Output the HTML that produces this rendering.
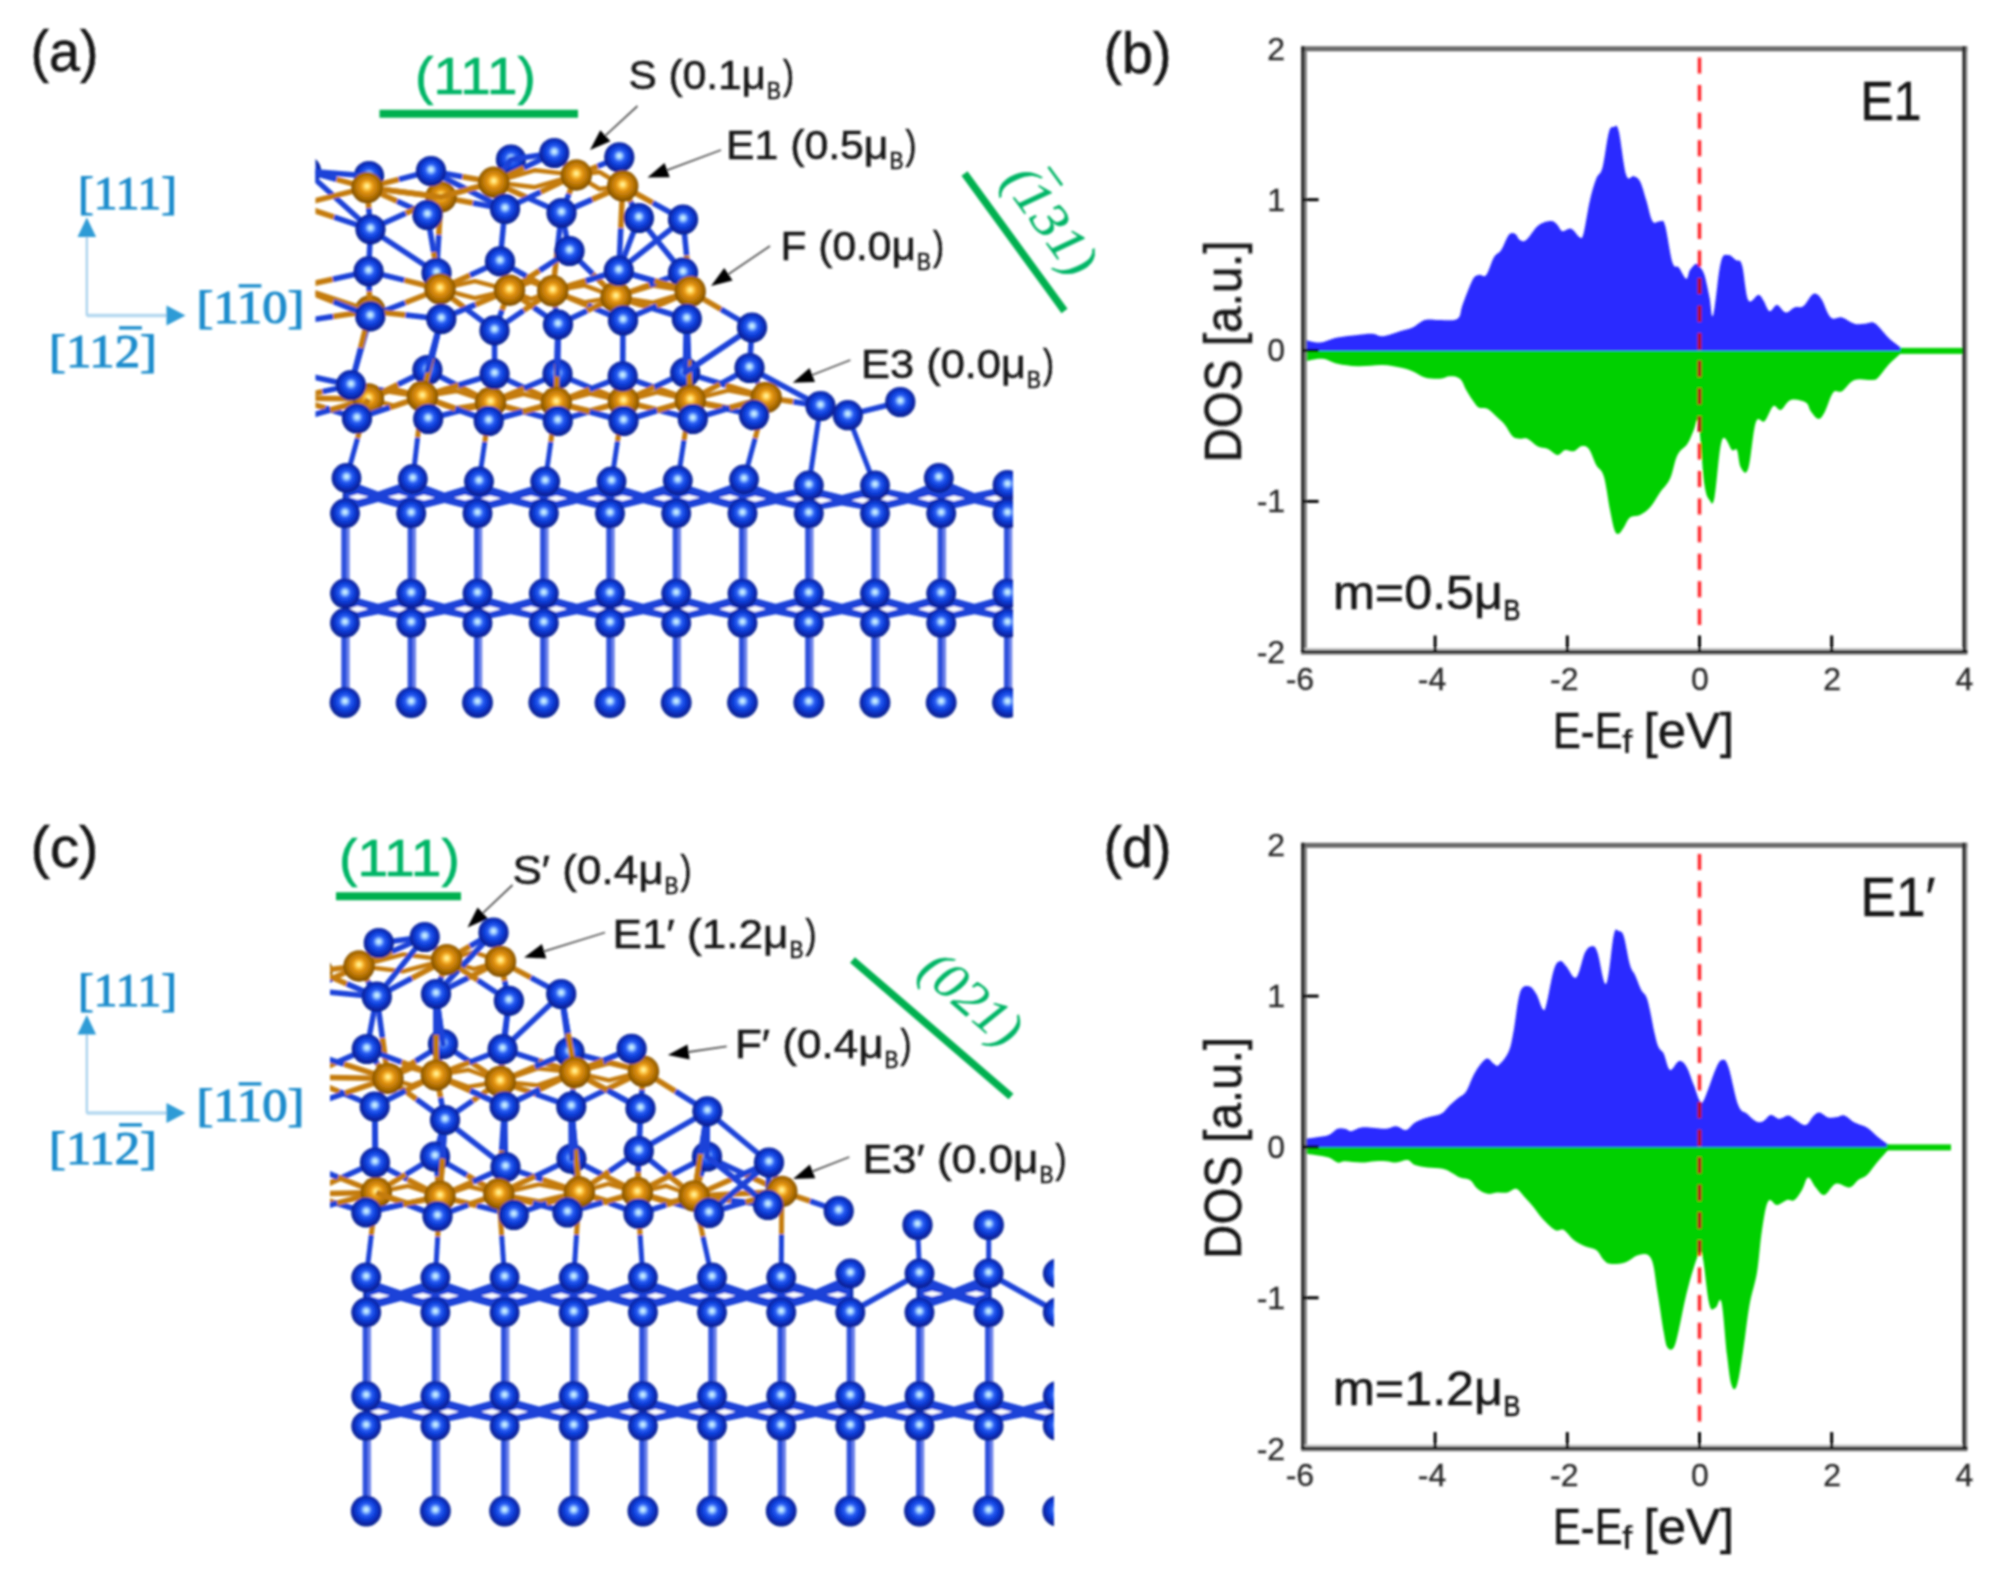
<!DOCTYPE html>
<html lang="en"><head><meta charset="utf-8"><title>Figure</title>
<style>
html,body{margin:0;padding:0;background:#fff;}
svg{display:block;}
.lb{font-family:"Liberation Sans",sans-serif;}
.k{fill:#161616;stroke:#161616;stroke-width:0.55px;}
.tk{font-family:"Liberation Sans",sans-serif;font-size:32px;fill:#2a2a2a;stroke:#2a2a2a;stroke-width:0.3px;}
.sf{font-family:"Liberation Serif",serif;stroke-width:1.1px;}
</style></head><body>
<svg width="2016" height="1580" viewBox="0 0 2016 1580">
<defs>
<radialGradient id="gb" cx="0.5" cy="0.47" r="0.5" fx="0.5" fy="0.45">
<stop offset="0" stop-color="#d8f6ff"/><stop offset="0.1" stop-color="#bfe6ff"/><stop offset="0.2" stop-color="#86bcff"/><stop offset="0.36" stop-color="#2a60f4"/><stop offset="0.58" stop-color="#1242de"/><stop offset="0.8" stop-color="#0a2db8"/><stop offset="1" stop-color="#061f8e"/>
</radialGradient>
<radialGradient id="go" cx="0.5" cy="0.47" r="0.5" fx="0.5" fy="0.45">
<stop offset="0" stop-color="#fffbb8"/><stop offset="0.1" stop-color="#ffe880"/><stop offset="0.2" stop-color="#ffcc48"/><stop offset="0.38" stop-color="#e69614"/><stop offset="0.6" stop-color="#c67e08"/><stop offset="0.82" stop-color="#a66804"/><stop offset="1" stop-color="#7e4e00"/>
</radialGradient>
<filter id="bl" x="0" y="0" width="100%" height="100%" filterUnits="userSpaceOnUse"><feGaussianBlur stdDeviation="0.95"/></filter>
</defs>
<rect width="2016" height="1580" fill="#fff"/>
<g filter="url(#bl)">

<clipPath id="ca"><rect x="315.5" y="120.0" width="697.5" height="620.0"/></clipPath>
<g clip-path="url(#ca)" stroke-linecap="round">
<line x1="345.6" y1="513.5" x2="345.6" y2="593.5" stroke="#6e84ea" stroke-width="8.4" stroke-linecap="butt"/>
<line x1="344.1" y1="513.5" x2="344.1" y2="593.5" stroke="#2f51dc" stroke-width="5.2" stroke-linecap="butt"/>
<line x1="345.6" y1="623.0" x2="345.6" y2="702.5" stroke="#6e84ea" stroke-width="8.4" stroke-linecap="butt"/>
<line x1="344.1" y1="623.0" x2="344.1" y2="702.5" stroke="#2f51dc" stroke-width="5.2" stroke-linecap="butt"/>
<line x1="346.5" y1="478.0" x2="345.0" y2="513.5" stroke="#0a2bb0" stroke-width="6.0"/>
<line x1="345.0" y1="593.5" x2="345.0" y2="623.0" stroke="#0a2bb0" stroke-width="6.0"/>
<line x1="411.9" y1="513.5" x2="411.9" y2="593.5" stroke="#6e84ea" stroke-width="8.4" stroke-linecap="butt"/>
<line x1="410.4" y1="513.5" x2="410.4" y2="593.5" stroke="#2f51dc" stroke-width="5.2" stroke-linecap="butt"/>
<line x1="411.9" y1="623.0" x2="411.9" y2="702.5" stroke="#6e84ea" stroke-width="8.4" stroke-linecap="butt"/>
<line x1="410.4" y1="623.0" x2="410.4" y2="702.5" stroke="#2f51dc" stroke-width="5.2" stroke-linecap="butt"/>
<line x1="412.8" y1="479.0" x2="411.2" y2="513.5" stroke="#0a2bb0" stroke-width="6.0"/>
<line x1="411.2" y1="593.5" x2="411.2" y2="623.0" stroke="#0a2bb0" stroke-width="6.0"/>
<line x1="478.1" y1="513.5" x2="478.1" y2="593.5" stroke="#6e84ea" stroke-width="8.4" stroke-linecap="butt"/>
<line x1="476.6" y1="513.5" x2="476.6" y2="593.5" stroke="#2f51dc" stroke-width="5.2" stroke-linecap="butt"/>
<line x1="478.1" y1="623.0" x2="478.1" y2="702.5" stroke="#6e84ea" stroke-width="8.4" stroke-linecap="butt"/>
<line x1="476.6" y1="623.0" x2="476.6" y2="702.5" stroke="#2f51dc" stroke-width="5.2" stroke-linecap="butt"/>
<line x1="479.0" y1="481.5" x2="477.5" y2="513.5" stroke="#0a2bb0" stroke-width="6.0"/>
<line x1="477.5" y1="593.5" x2="477.5" y2="623.0" stroke="#0a2bb0" stroke-width="6.0"/>
<line x1="544.4" y1="513.5" x2="544.4" y2="593.5" stroke="#6e84ea" stroke-width="8.4" stroke-linecap="butt"/>
<line x1="542.9" y1="513.5" x2="542.9" y2="593.5" stroke="#2f51dc" stroke-width="5.2" stroke-linecap="butt"/>
<line x1="544.4" y1="623.0" x2="544.4" y2="702.5" stroke="#6e84ea" stroke-width="8.4" stroke-linecap="butt"/>
<line x1="542.9" y1="623.0" x2="542.9" y2="702.5" stroke="#2f51dc" stroke-width="5.2" stroke-linecap="butt"/>
<line x1="545.2" y1="481.5" x2="543.8" y2="513.5" stroke="#0a2bb0" stroke-width="6.0"/>
<line x1="543.8" y1="593.5" x2="543.8" y2="623.0" stroke="#0a2bb0" stroke-width="6.0"/>
<line x1="610.6" y1="513.5" x2="610.6" y2="593.5" stroke="#6e84ea" stroke-width="8.4" stroke-linecap="butt"/>
<line x1="609.1" y1="513.5" x2="609.1" y2="593.5" stroke="#2f51dc" stroke-width="5.2" stroke-linecap="butt"/>
<line x1="610.6" y1="623.0" x2="610.6" y2="702.5" stroke="#6e84ea" stroke-width="8.4" stroke-linecap="butt"/>
<line x1="609.1" y1="623.0" x2="609.1" y2="702.5" stroke="#2f51dc" stroke-width="5.2" stroke-linecap="butt"/>
<line x1="611.5" y1="481.5" x2="610.0" y2="513.5" stroke="#0a2bb0" stroke-width="6.0"/>
<line x1="610.0" y1="593.5" x2="610.0" y2="623.0" stroke="#0a2bb0" stroke-width="6.0"/>
<line x1="676.9" y1="513.5" x2="676.9" y2="593.5" stroke="#6e84ea" stroke-width="8.4" stroke-linecap="butt"/>
<line x1="675.4" y1="513.5" x2="675.4" y2="593.5" stroke="#2f51dc" stroke-width="5.2" stroke-linecap="butt"/>
<line x1="676.9" y1="623.0" x2="676.9" y2="702.5" stroke="#6e84ea" stroke-width="8.4" stroke-linecap="butt"/>
<line x1="675.4" y1="623.0" x2="675.4" y2="702.5" stroke="#2f51dc" stroke-width="5.2" stroke-linecap="butt"/>
<line x1="677.8" y1="480.5" x2="676.2" y2="513.5" stroke="#0a2bb0" stroke-width="6.0"/>
<line x1="676.2" y1="593.5" x2="676.2" y2="623.0" stroke="#0a2bb0" stroke-width="6.0"/>
<line x1="743.1" y1="513.5" x2="743.1" y2="593.5" stroke="#6e84ea" stroke-width="8.4" stroke-linecap="butt"/>
<line x1="741.6" y1="513.5" x2="741.6" y2="593.5" stroke="#2f51dc" stroke-width="5.2" stroke-linecap="butt"/>
<line x1="743.1" y1="623.0" x2="743.1" y2="702.5" stroke="#6e84ea" stroke-width="8.4" stroke-linecap="butt"/>
<line x1="741.6" y1="623.0" x2="741.6" y2="702.5" stroke="#2f51dc" stroke-width="5.2" stroke-linecap="butt"/>
<line x1="744.0" y1="479.5" x2="742.5" y2="513.5" stroke="#0a2bb0" stroke-width="6.0"/>
<line x1="742.5" y1="593.5" x2="742.5" y2="623.0" stroke="#0a2bb0" stroke-width="6.0"/>
<line x1="809.4" y1="513.5" x2="809.4" y2="593.5" stroke="#6e84ea" stroke-width="8.4" stroke-linecap="butt"/>
<line x1="807.9" y1="513.5" x2="807.9" y2="593.5" stroke="#2f51dc" stroke-width="5.2" stroke-linecap="butt"/>
<line x1="809.4" y1="623.0" x2="809.4" y2="702.5" stroke="#6e84ea" stroke-width="8.4" stroke-linecap="butt"/>
<line x1="807.9" y1="623.0" x2="807.9" y2="702.5" stroke="#2f51dc" stroke-width="5.2" stroke-linecap="butt"/>
<line x1="808.8" y1="485.5" x2="808.8" y2="513.5" stroke="#0a2bb0" stroke-width="6.0"/>
<line x1="808.8" y1="593.5" x2="808.8" y2="623.0" stroke="#0a2bb0" stroke-width="6.0"/>
<line x1="875.6" y1="513.5" x2="875.6" y2="593.5" stroke="#6e84ea" stroke-width="8.4" stroke-linecap="butt"/>
<line x1="874.1" y1="513.5" x2="874.1" y2="593.5" stroke="#2f51dc" stroke-width="5.2" stroke-linecap="butt"/>
<line x1="875.6" y1="623.0" x2="875.6" y2="702.5" stroke="#6e84ea" stroke-width="8.4" stroke-linecap="butt"/>
<line x1="874.1" y1="623.0" x2="874.1" y2="702.5" stroke="#2f51dc" stroke-width="5.2" stroke-linecap="butt"/>
<line x1="875.0" y1="485.5" x2="875.0" y2="513.5" stroke="#0a2bb0" stroke-width="6.0"/>
<line x1="875.0" y1="593.5" x2="875.0" y2="623.0" stroke="#0a2bb0" stroke-width="6.0"/>
<line x1="941.9" y1="513.5" x2="941.9" y2="593.5" stroke="#6e84ea" stroke-width="8.4" stroke-linecap="butt"/>
<line x1="940.4" y1="513.5" x2="940.4" y2="593.5" stroke="#2f51dc" stroke-width="5.2" stroke-linecap="butt"/>
<line x1="941.9" y1="623.0" x2="941.9" y2="702.5" stroke="#6e84ea" stroke-width="8.4" stroke-linecap="butt"/>
<line x1="940.4" y1="623.0" x2="940.4" y2="702.5" stroke="#2f51dc" stroke-width="5.2" stroke-linecap="butt"/>
<line x1="938.8" y1="478.0" x2="941.2" y2="513.5" stroke="#0a2bb0" stroke-width="6.0"/>
<line x1="941.2" y1="593.5" x2="941.2" y2="623.0" stroke="#0a2bb0" stroke-width="6.0"/>
<line x1="1008.1" y1="513.5" x2="1008.1" y2="593.5" stroke="#6e84ea" stroke-width="8.4" stroke-linecap="butt"/>
<line x1="1006.6" y1="513.5" x2="1006.6" y2="593.5" stroke="#2f51dc" stroke-width="5.2" stroke-linecap="butt"/>
<line x1="1008.1" y1="623.0" x2="1008.1" y2="702.5" stroke="#6e84ea" stroke-width="8.4" stroke-linecap="butt"/>
<line x1="1006.6" y1="623.0" x2="1006.6" y2="702.5" stroke="#2f51dc" stroke-width="5.2" stroke-linecap="butt"/>
<line x1="1007.5" y1="485.0" x2="1007.5" y2="513.5" stroke="#0a2bb0" stroke-width="6.0"/>
<line x1="1007.5" y1="593.5" x2="1007.5" y2="623.0" stroke="#0a2bb0" stroke-width="6.0"/>
<polygon points="345.0,479.0 378.1,491.6 411.2,480.0 411.2,511.5 378.1,502.0 345.0,511.5" fill="#1a42d8"/>
<polygon points="348.5,496.8 357.5,493.9 368.5,496.8 357.5,499.7" fill="#fff"/>
<polygon points="407.8,496.8 398.8,493.9 387.8,496.8 398.8,499.7" fill="#fff"/>
<polygon points="345.0,594.5 378.1,603.8 411.2,594.5 411.2,621.0 378.1,614.2 345.0,621.0" fill="#1a42d8"/>
<polygon points="348.5,609.0 357.5,606.1 368.5,609.0 357.5,611.9" fill="#fff"/>
<polygon points="407.8,609.0 398.8,606.1 387.8,609.0 398.8,611.9" fill="#fff"/>
<polygon points="411.2,480.0 444.4,492.5 477.5,482.5 477.5,511.5 444.4,502.9 411.2,511.5" fill="#1a42d8"/>
<polygon points="414.8,497.7 423.8,494.8 434.8,497.7 423.8,500.6" fill="#fff"/>
<polygon points="474.0,497.7 465.0,494.8 454.0,497.7 465.0,500.6" fill="#fff"/>
<polygon points="411.2,594.5 444.4,603.8 477.5,594.5 477.5,621.0 444.4,614.2 411.2,621.0" fill="#1a42d8"/>
<polygon points="414.8,609.0 423.8,606.1 434.8,609.0 423.8,611.9" fill="#fff"/>
<polygon points="474.0,609.0 465.0,606.1 454.0,609.0 465.0,611.9" fill="#fff"/>
<polygon points="477.5,482.5 510.6,493.1 543.8,482.5 543.8,511.5 510.6,503.5 477.5,511.5" fill="#1a42d8"/>
<polygon points="481.0,498.3 490.0,495.4 501.0,498.3 490.0,501.2" fill="#fff"/>
<polygon points="540.2,498.3 531.2,495.4 520.2,498.3 531.2,501.2" fill="#fff"/>
<polygon points="477.5,594.5 510.6,603.8 543.8,594.5 543.8,621.0 510.6,614.2 477.5,621.0" fill="#1a42d8"/>
<polygon points="481.0,609.0 490.0,606.1 501.0,609.0 490.0,611.9" fill="#fff"/>
<polygon points="540.2,609.0 531.2,606.1 520.2,609.0 531.2,611.9" fill="#fff"/>
<polygon points="543.8,482.5 576.9,493.1 610.0,482.5 610.0,511.5 576.9,503.5 543.8,511.5" fill="#1a42d8"/>
<polygon points="547.2,498.3 556.2,495.4 567.2,498.3 556.2,501.2" fill="#fff"/>
<polygon points="606.5,498.3 597.5,495.4 586.5,498.3 597.5,501.2" fill="#fff"/>
<polygon points="543.8,594.5 576.9,603.8 610.0,594.5 610.0,621.0 576.9,614.2 543.8,621.0" fill="#1a42d8"/>
<polygon points="547.2,609.0 556.2,606.1 567.2,609.0 556.2,611.9" fill="#fff"/>
<polygon points="606.5,609.0 597.5,606.1 586.5,609.0 597.5,611.9" fill="#fff"/>
<polygon points="610.0,482.5 643.1,492.9 676.2,481.5 676.2,511.5 643.1,503.2 610.0,511.5" fill="#1a42d8"/>
<polygon points="613.5,498.1 622.5,495.2 633.5,498.1 622.5,500.9" fill="#fff"/>
<polygon points="672.8,498.1 663.8,495.2 652.8,498.1 663.8,500.9" fill="#fff"/>
<polygon points="610.0,594.5 643.1,603.8 676.2,594.5 676.2,621.0 643.1,614.2 610.0,621.0" fill="#1a42d8"/>
<polygon points="613.5,609.0 622.5,606.1 633.5,609.0 622.5,611.9" fill="#fff"/>
<polygon points="672.8,609.0 663.8,606.1 652.8,609.0 663.8,611.9" fill="#fff"/>
<polygon points="676.2,481.5 709.4,492.4 742.5,480.5 742.5,511.5 709.4,502.8 676.2,511.5" fill="#1a42d8"/>
<polygon points="679.8,497.6 688.8,494.7 699.8,497.6 688.8,500.4" fill="#fff"/>
<polygon points="739.0,497.6 730.0,494.7 719.0,497.6 730.0,500.4" fill="#fff"/>
<polygon points="676.2,594.5 709.4,603.8 742.5,594.5 742.5,621.0 709.4,614.2 676.2,621.0" fill="#1a42d8"/>
<polygon points="679.8,609.0 688.8,606.1 699.8,609.0 688.8,611.9" fill="#fff"/>
<polygon points="739.0,609.0 730.0,606.1 719.0,609.0 730.0,611.9" fill="#fff"/>
<polygon points="742.5,480.5 775.6,493.6 808.8,486.5 808.8,511.5 775.6,504.0 742.5,511.5" fill="#1a42d8"/>
<polygon points="746.0,498.8 755.0,495.9 766.0,498.8 755.0,501.7" fill="#fff"/>
<polygon points="805.2,498.8 796.2,495.9 785.2,498.8 796.2,501.7" fill="#fff"/>
<polygon points="742.5,594.5 775.6,603.8 808.8,594.5 808.8,621.0 775.6,614.2 742.5,621.0" fill="#1a42d8"/>
<polygon points="746.0,609.0 755.0,606.1 766.0,609.0 755.0,611.9" fill="#fff"/>
<polygon points="805.2,609.0 796.2,606.1 785.2,609.0 796.2,611.9" fill="#fff"/>
<polygon points="808.8,486.5 841.9,495.1 875.0,486.5 875.0,511.5 841.9,505.5 808.8,511.5" fill="#1a42d8"/>
<polygon points="812.2,500.3 821.2,497.4 832.2,500.3 821.2,503.2" fill="#fff"/>
<polygon points="871.5,500.3 862.5,497.4 851.5,500.3 862.5,503.2" fill="#fff"/>
<polygon points="808.8,594.5 841.9,603.8 875.0,594.5 875.0,621.0 841.9,614.2 808.8,621.0" fill="#1a42d8"/>
<polygon points="812.2,609.0 821.2,606.1 832.2,609.0 821.2,611.9" fill="#fff"/>
<polygon points="871.5,609.0 862.5,606.1 851.5,609.0 862.5,611.9" fill="#fff"/>
<polygon points="875.0,486.5 908.1,493.2 941.2,479.0 941.2,511.5 908.1,503.6 875.0,511.5" fill="#1a42d8"/>
<polygon points="878.5,498.4 887.5,495.5 898.5,498.4 887.5,501.3" fill="#fff"/>
<polygon points="937.8,498.4 928.8,495.5 917.8,498.4 928.8,501.3" fill="#fff"/>
<polygon points="875.0,594.5 908.1,603.8 941.2,594.5 941.2,621.0 908.1,614.2 875.0,621.0" fill="#1a42d8"/>
<polygon points="878.5,609.0 887.5,606.1 898.5,609.0 887.5,611.9" fill="#fff"/>
<polygon points="937.8,609.0 928.8,606.1 917.8,609.0 928.8,611.9" fill="#fff"/>
<polygon points="941.2,479.0 974.4,493.1 1007.5,486.0 1007.5,511.5 974.4,503.5 941.2,511.5" fill="#1a42d8"/>
<polygon points="944.8,498.3 953.8,495.4 964.8,498.3 953.8,501.2" fill="#fff"/>
<polygon points="1004.0,498.3 995.0,495.4 984.0,498.3 995.0,501.2" fill="#fff"/>
<polygon points="941.2,594.5 974.4,603.8 1007.5,594.5 1007.5,621.0 974.4,614.2 941.2,621.0" fill="#1a42d8"/>
<polygon points="944.8,609.0 953.8,606.1 964.8,609.0 953.8,611.9" fill="#fff"/>
<polygon points="1004.0,609.0 995.0,606.1 984.0,609.0 995.0,611.9" fill="#fff"/>
<circle cx="306.0" cy="171.0" r="15.1" fill="url(#gb)"/>
<circle cx="298.0" cy="205.0" r="15.7" fill="url(#go)"/>
<circle cx="297.0" cy="287.0" r="15.7" fill="url(#go)"/>
<circle cx="296.0" cy="322.0" r="15.1" fill="url(#gb)"/>
<circle cx="294.0" cy="398.0" r="15.7" fill="url(#go)"/>
<circle cx="290.0" cy="372.0" r="15.1" fill="url(#gb)"/>
<circle cx="292.0" cy="421.0" r="15.1" fill="url(#gb)"/>
<circle cx="296.0" cy="250.0" r="15.1" fill="url(#gb)"/>
<circle cx="369.0" cy="176.0" r="15.1" fill="url(#gb)"/>
<circle cx="511.0" cy="159.5" r="15.1" fill="url(#gb)"/>
<circle cx="370.0" cy="311.0" r="15.7" fill="url(#go)"/>
<path d="M493.8 182.3 L535.0 170.2 L576.3 175.0" fill="none" stroke="#c47c0c" stroke-width="4.4" stroke-linejoin="round"/>
<path d="M493.8 182.3 L535.0 187.2 L576.3 175.0" fill="none" stroke="#c47c0c" stroke-width="4.4" stroke-linejoin="round"/>
<path d="M576.3 175.0 L599.5 172.0 L622.7 186.0" fill="none" stroke="#c47c0c" stroke-width="4.4" stroke-linejoin="round"/>
<path d="M576.3 175.0 L599.5 189.0 L622.7 186.0" fill="none" stroke="#c47c0c" stroke-width="4.4" stroke-linejoin="round"/>
<path d="M440.0 289.0 L474.8 281.1 L509.5 290.2" fill="none" stroke="#c47c0c" stroke-width="4.4" stroke-linejoin="round"/>
<path d="M440.0 289.0 L474.8 298.1 L509.5 290.2" fill="none" stroke="#c47c0c" stroke-width="4.4" stroke-linejoin="round"/>
<path d="M509.5 290.2 L531.1 282.0 L552.7 290.8" fill="none" stroke="#c47c0c" stroke-width="4.4" stroke-linejoin="round"/>
<path d="M509.5 290.2 L531.1 299.0 L552.7 290.8" fill="none" stroke="#c47c0c" stroke-width="4.4" stroke-linejoin="round"/>
<path d="M552.7 290.8 L584.4 285.4 L616.0 297.0" fill="none" stroke="#c47c0c" stroke-width="4.4" stroke-linejoin="round"/>
<path d="M552.7 290.8 L584.4 302.4 L616.0 297.0" fill="none" stroke="#c47c0c" stroke-width="4.4" stroke-linejoin="round"/>
<path d="M616.0 297.0 L653.1 285.7 L690.2 291.4" fill="none" stroke="#c47c0c" stroke-width="4.4" stroke-linejoin="round"/>
<path d="M616.0 297.0 L653.1 302.7 L690.2 291.4" fill="none" stroke="#c47c0c" stroke-width="4.4" stroke-linejoin="round"/>
<path d="M368.5 399.0 L395.4 389.2 L422.4 396.5" fill="none" stroke="#c47c0c" stroke-width="4.4" stroke-linejoin="round"/>
<path d="M368.5 399.0 L395.4 406.2 L422.4 396.5" fill="none" stroke="#c47c0c" stroke-width="4.4" stroke-linejoin="round"/>
<path d="M422.4 396.5 L456.4 391.0 L490.5 402.5" fill="none" stroke="#c47c0c" stroke-width="4.4" stroke-linejoin="round"/>
<path d="M422.4 396.5 L456.4 408.0 L490.5 402.5" fill="none" stroke="#c47c0c" stroke-width="4.4" stroke-linejoin="round"/>
<path d="M490.5 402.5 L523.4 394.0 L556.3 402.5" fill="none" stroke="#c47c0c" stroke-width="4.4" stroke-linejoin="round"/>
<path d="M490.5 402.5 L523.4 411.0 L556.3 402.5" fill="none" stroke="#c47c0c" stroke-width="4.4" stroke-linejoin="round"/>
<path d="M556.3 402.5 L589.9 393.5 L623.5 401.5" fill="none" stroke="#c47c0c" stroke-width="4.4" stroke-linejoin="round"/>
<path d="M556.3 402.5 L589.9 410.5 L623.5 401.5" fill="none" stroke="#c47c0c" stroke-width="4.4" stroke-linejoin="round"/>
<path d="M623.5 401.5 L656.9 392.4 L690.3 400.2" fill="none" stroke="#c47c0c" stroke-width="4.4" stroke-linejoin="round"/>
<path d="M623.5 401.5 L656.9 409.4 L690.3 400.2" fill="none" stroke="#c47c0c" stroke-width="4.4" stroke-linejoin="round"/>
<path d="M690.3 400.2 L728.2 390.4 L766.2 397.5" fill="none" stroke="#c47c0c" stroke-width="4.4" stroke-linejoin="round"/>
<path d="M690.3 400.2 L728.2 407.4 L766.2 397.5" fill="none" stroke="#c47c0c" stroke-width="4.4" stroke-linejoin="round"/>
<line x1="306.0" y1="171.0" x2="336.5" y2="179.3" stroke="#1a42d8" stroke-width="5.5" stroke-linecap="butt"/>
<line x1="336.5" y1="179.3" x2="367.0" y2="187.6" stroke="#c47c0c" stroke-width="5.5" stroke-linecap="butt"/>
<line x1="367.0" y1="187.6" x2="399.0" y2="179.3" stroke="#c47c0c" stroke-width="5.5" stroke-linecap="butt"/>
<line x1="399.0" y1="179.3" x2="431.0" y2="171.0" stroke="#1a42d8" stroke-width="5.5" stroke-linecap="butt"/>
<line x1="367.0" y1="187.6" x2="368.8" y2="208.4" stroke="#c47c0c" stroke-width="5.5" stroke-linecap="butt"/>
<line x1="368.8" y1="208.4" x2="370.5" y2="229.3" stroke="#1a42d8" stroke-width="5.5" stroke-linecap="butt"/>
<line x1="367.0" y1="187.6" x2="397.2" y2="201.3" stroke="#c47c0c" stroke-width="5.5" stroke-linecap="butt"/>
<line x1="397.2" y1="201.3" x2="427.4" y2="215.0" stroke="#1a42d8" stroke-width="5.5" stroke-linecap="butt"/>
<line x1="367.0" y1="187.6" x2="441.0" y2="197.0" stroke="#c47c0c" stroke-width="5.5"/>
<line x1="306.0" y1="171.0" x2="370.5" y2="229.3" stroke="#1a42d8" stroke-width="5.5"/>
<line x1="298.0" y1="205.0" x2="367.0" y2="187.6" stroke="#c47c0c" stroke-width="5.5"/>
<line x1="298.0" y1="205.0" x2="334.2" y2="217.2" stroke="#c47c0c" stroke-width="5.5" stroke-linecap="butt"/>
<line x1="334.2" y1="217.2" x2="370.5" y2="229.3" stroke="#1a42d8" stroke-width="5.5" stroke-linecap="butt"/>
<line x1="298.0" y1="205.0" x2="302.0" y2="188.0" stroke="#c47c0c" stroke-width="5.5" stroke-linecap="butt"/>
<line x1="302.0" y1="188.0" x2="306.0" y2="171.0" stroke="#1a42d8" stroke-width="5.5" stroke-linecap="butt"/>
<line x1="296.0" y1="250.0" x2="297.0" y2="227.5" stroke="#1a42d8" stroke-width="5.5" stroke-linecap="butt"/>
<line x1="297.0" y1="227.5" x2="298.0" y2="205.0" stroke="#c47c0c" stroke-width="5.5" stroke-linecap="butt"/>
<line x1="296.0" y1="250.0" x2="296.5" y2="268.5" stroke="#1a42d8" stroke-width="5.5" stroke-linecap="butt"/>
<line x1="296.5" y1="268.5" x2="297.0" y2="287.0" stroke="#c47c0c" stroke-width="5.5" stroke-linecap="butt"/>
<line x1="306.0" y1="171.0" x2="369.0" y2="176.0" stroke="#1a42d8" stroke-width="5.5"/>
<line x1="431.0" y1="171.0" x2="436.0" y2="184.0" stroke="#1a42d8" stroke-width="5.5" stroke-linecap="butt"/>
<line x1="436.0" y1="184.0" x2="441.0" y2="197.0" stroke="#c47c0c" stroke-width="5.5" stroke-linecap="butt"/>
<line x1="431.0" y1="171.0" x2="462.4" y2="176.7" stroke="#1a42d8" stroke-width="5.5" stroke-linecap="butt"/>
<line x1="462.4" y1="176.7" x2="493.8" y2="182.3" stroke="#c47c0c" stroke-width="5.5" stroke-linecap="butt"/>
<line x1="431.0" y1="171.0" x2="505.0" y2="209.0" stroke="#1a42d8" stroke-width="5.5"/>
<line x1="441.0" y1="197.0" x2="493.8" y2="182.3" stroke="#c47c0c" stroke-width="5.5"/>
<line x1="441.0" y1="197.0" x2="473.0" y2="203.0" stroke="#c47c0c" stroke-width="5.5" stroke-linecap="butt"/>
<line x1="473.0" y1="203.0" x2="505.0" y2="209.0" stroke="#1a42d8" stroke-width="5.5" stroke-linecap="butt"/>
<line x1="441.0" y1="197.0" x2="438.8" y2="235.0" stroke="#c47c0c" stroke-width="5.5" stroke-linecap="butt"/>
<line x1="438.8" y1="235.0" x2="436.5" y2="273.0" stroke="#1a42d8" stroke-width="5.5" stroke-linecap="butt"/>
<line x1="370.5" y1="229.3" x2="405.8" y2="213.2" stroke="#1a42d8" stroke-width="5.5" stroke-linecap="butt"/>
<line x1="405.8" y1="213.2" x2="441.0" y2="197.0" stroke="#c47c0c" stroke-width="5.5" stroke-linecap="butt"/>
<line x1="370.5" y1="229.3" x2="368.6" y2="271.4" stroke="#1a42d8" stroke-width="5.5"/>
<line x1="370.5" y1="229.3" x2="436.5" y2="273.0" stroke="#1a42d8" stroke-width="5.5"/>
<line x1="427.4" y1="215.0" x2="433.7" y2="252.0" stroke="#1a42d8" stroke-width="5.5" stroke-linecap="butt"/>
<line x1="433.7" y1="252.0" x2="440.0" y2="289.0" stroke="#c47c0c" stroke-width="5.5" stroke-linecap="butt"/>
<line x1="427.4" y1="215.0" x2="434.2" y2="206.0" stroke="#1a42d8" stroke-width="5.5" stroke-linecap="butt"/>
<line x1="434.2" y1="206.0" x2="441.0" y2="197.0" stroke="#c47c0c" stroke-width="5.5" stroke-linecap="butt"/>
<line x1="493.8" y1="182.3" x2="502.4" y2="170.9" stroke="#c47c0c" stroke-width="5.5" stroke-linecap="butt"/>
<line x1="502.4" y1="170.9" x2="511.0" y2="159.5" stroke="#1a42d8" stroke-width="5.5" stroke-linecap="butt"/>
<line x1="511.0" y1="159.5" x2="554.3" y2="153.0" stroke="#1a42d8" stroke-width="5.5"/>
<line x1="493.8" y1="182.3" x2="524.0" y2="167.7" stroke="#c47c0c" stroke-width="5.5" stroke-linecap="butt"/>
<line x1="524.0" y1="167.7" x2="554.3" y2="153.0" stroke="#1a42d8" stroke-width="5.5" stroke-linecap="butt"/>
<line x1="493.8" y1="182.3" x2="499.4" y2="195.7" stroke="#c47c0c" stroke-width="5.5" stroke-linecap="butt"/>
<line x1="499.4" y1="195.7" x2="505.0" y2="209.0" stroke="#1a42d8" stroke-width="5.5" stroke-linecap="butt"/>
<line x1="493.8" y1="182.3" x2="527.6" y2="197.7" stroke="#c47c0c" stroke-width="5.5" stroke-linecap="butt"/>
<line x1="527.6" y1="197.7" x2="561.5" y2="213.0" stroke="#1a42d8" stroke-width="5.5" stroke-linecap="butt"/>
<line x1="576.3" y1="175.0" x2="540.6" y2="192.0" stroke="#c47c0c" stroke-width="5.5" stroke-linecap="butt"/>
<line x1="540.6" y1="192.0" x2="505.0" y2="209.0" stroke="#1a42d8" stroke-width="5.5" stroke-linecap="butt"/>
<line x1="554.3" y1="153.0" x2="565.3" y2="164.0" stroke="#1a42d8" stroke-width="5.5" stroke-linecap="butt"/>
<line x1="565.3" y1="164.0" x2="576.3" y2="175.0" stroke="#c47c0c" stroke-width="5.5" stroke-linecap="butt"/>
<line x1="576.3" y1="175.0" x2="597.8" y2="166.2" stroke="#c47c0c" stroke-width="5.5" stroke-linecap="butt"/>
<line x1="597.8" y1="166.2" x2="619.3" y2="157.3" stroke="#1a42d8" stroke-width="5.5" stroke-linecap="butt"/>
<line x1="576.3" y1="175.0" x2="568.9" y2="194.0" stroke="#c47c0c" stroke-width="5.5" stroke-linecap="butt"/>
<line x1="568.9" y1="194.0" x2="561.5" y2="213.0" stroke="#1a42d8" stroke-width="5.5" stroke-linecap="butt"/>
<line x1="561.5" y1="213.0" x2="592.1" y2="199.5" stroke="#1a42d8" stroke-width="5.5" stroke-linecap="butt"/>
<line x1="592.1" y1="199.5" x2="622.7" y2="186.0" stroke="#c47c0c" stroke-width="5.5" stroke-linecap="butt"/>
<line x1="622.7" y1="186.0" x2="621.0" y2="171.7" stroke="#c47c0c" stroke-width="5.5" stroke-linecap="butt"/>
<line x1="621.0" y1="171.7" x2="619.3" y2="157.3" stroke="#1a42d8" stroke-width="5.5" stroke-linecap="butt"/>
<line x1="622.7" y1="186.0" x2="652.9" y2="202.8" stroke="#c47c0c" stroke-width="5.5" stroke-linecap="butt"/>
<line x1="652.9" y1="202.8" x2="683.0" y2="219.5" stroke="#1a42d8" stroke-width="5.5" stroke-linecap="butt"/>
<line x1="622.7" y1="186.0" x2="620.8" y2="228.3" stroke="#c47c0c" stroke-width="5.5" stroke-linecap="butt"/>
<line x1="620.8" y1="228.3" x2="618.8" y2="270.7" stroke="#1a42d8" stroke-width="5.5" stroke-linecap="butt"/>
<line x1="638.9" y1="218.0" x2="618.8" y2="270.7" stroke="#1a42d8" stroke-width="5.5"/>
<line x1="622.7" y1="186.0" x2="630.8" y2="202.0" stroke="#c47c0c" stroke-width="5.5" stroke-linecap="butt"/>
<line x1="630.8" y1="202.0" x2="638.9" y2="218.0" stroke="#1a42d8" stroke-width="5.5" stroke-linecap="butt"/>
<line x1="618.8" y1="270.7" x2="683.0" y2="219.5" stroke="#1a42d8" stroke-width="5.5"/>
<line x1="638.9" y1="218.0" x2="683.0" y2="272.6" stroke="#1a42d8" stroke-width="5.5"/>
<line x1="683.0" y1="219.5" x2="686.6" y2="255.4" stroke="#1a42d8" stroke-width="5.5" stroke-linecap="butt"/>
<line x1="686.6" y1="255.4" x2="690.2" y2="291.4" stroke="#c47c0c" stroke-width="5.5" stroke-linecap="butt"/>
<line x1="561.5" y1="213.0" x2="569.5" y2="251.0" stroke="#1a42d8" stroke-width="5.5"/>
<line x1="552.7" y1="290.8" x2="557.1" y2="251.9" stroke="#c47c0c" stroke-width="5.5" stroke-linecap="butt"/>
<line x1="557.1" y1="251.9" x2="561.5" y2="213.0" stroke="#1a42d8" stroke-width="5.5" stroke-linecap="butt"/>
<line x1="569.5" y1="251.0" x2="592.8" y2="274.0" stroke="#1a42d8" stroke-width="5.5" stroke-linecap="butt"/>
<line x1="592.8" y1="274.0" x2="616.0" y2="297.0" stroke="#c47c0c" stroke-width="5.5" stroke-linecap="butt"/>
<line x1="569.5" y1="251.0" x2="539.5" y2="270.6" stroke="#1a42d8" stroke-width="5.5" stroke-linecap="butt"/>
<line x1="539.5" y1="270.6" x2="509.5" y2="290.2" stroke="#c47c0c" stroke-width="5.5" stroke-linecap="butt"/>
<line x1="505.0" y1="209.0" x2="500.0" y2="261.4" stroke="#1a42d8" stroke-width="5.5"/>
<line x1="500.0" y1="261.4" x2="504.8" y2="275.8" stroke="#1a42d8" stroke-width="5.5" stroke-linecap="butt"/>
<line x1="504.8" y1="275.8" x2="509.5" y2="290.2" stroke="#c47c0c" stroke-width="5.5" stroke-linecap="butt"/>
<line x1="500.0" y1="261.4" x2="470.0" y2="275.2" stroke="#1a42d8" stroke-width="5.5" stroke-linecap="butt"/>
<line x1="470.0" y1="275.2" x2="440.0" y2="289.0" stroke="#c47c0c" stroke-width="5.5" stroke-linecap="butt"/>
<line x1="500.0" y1="261.4" x2="526.4" y2="276.1" stroke="#1a42d8" stroke-width="5.5" stroke-linecap="butt"/>
<line x1="526.4" y1="276.1" x2="552.7" y2="290.8" stroke="#c47c0c" stroke-width="5.5" stroke-linecap="butt"/>
<line x1="368.6" y1="271.4" x2="404.3" y2="280.2" stroke="#1a42d8" stroke-width="5.5" stroke-linecap="butt"/>
<line x1="404.3" y1="280.2" x2="440.0" y2="289.0" stroke="#c47c0c" stroke-width="5.5" stroke-linecap="butt"/>
<line x1="368.6" y1="271.4" x2="369.3" y2="291.2" stroke="#1a42d8" stroke-width="5.5" stroke-linecap="butt"/>
<line x1="369.3" y1="291.2" x2="370.0" y2="311.0" stroke="#c47c0c" stroke-width="5.5" stroke-linecap="butt"/>
<line x1="368.6" y1="271.4" x2="332.8" y2="279.2" stroke="#1a42d8" stroke-width="5.5" stroke-linecap="butt"/>
<line x1="332.8" y1="279.2" x2="297.0" y2="287.0" stroke="#c47c0c" stroke-width="5.5" stroke-linecap="butt"/>
<line x1="618.8" y1="270.7" x2="585.8" y2="280.8" stroke="#1a42d8" stroke-width="5.5" stroke-linecap="butt"/>
<line x1="585.8" y1="280.8" x2="552.7" y2="290.8" stroke="#c47c0c" stroke-width="5.5" stroke-linecap="butt"/>
<line x1="618.8" y1="270.7" x2="654.5" y2="281.0" stroke="#1a42d8" stroke-width="5.5" stroke-linecap="butt"/>
<line x1="654.5" y1="281.0" x2="690.2" y2="291.4" stroke="#c47c0c" stroke-width="5.5" stroke-linecap="butt"/>
<line x1="618.8" y1="270.7" x2="617.4" y2="283.9" stroke="#1a42d8" stroke-width="5.5" stroke-linecap="butt"/>
<line x1="617.4" y1="283.9" x2="616.0" y2="297.0" stroke="#c47c0c" stroke-width="5.5" stroke-linecap="butt"/>
<line x1="683.0" y1="272.6" x2="686.6" y2="282.0" stroke="#1a42d8" stroke-width="5.5" stroke-linecap="butt"/>
<line x1="686.6" y1="282.0" x2="690.2" y2="291.4" stroke="#c47c0c" stroke-width="5.5" stroke-linecap="butt"/>
<line x1="683.0" y1="272.6" x2="649.5" y2="284.8" stroke="#1a42d8" stroke-width="5.5" stroke-linecap="butt"/>
<line x1="649.5" y1="284.8" x2="616.0" y2="297.0" stroke="#c47c0c" stroke-width="5.5" stroke-linecap="butt"/>
<line x1="436.5" y1="273.0" x2="438.2" y2="281.0" stroke="#1a42d8" stroke-width="5.5" stroke-linecap="butt"/>
<line x1="438.2" y1="281.0" x2="440.0" y2="289.0" stroke="#c47c0c" stroke-width="5.5" stroke-linecap="butt"/>
<line x1="440.0" y1="289.0" x2="405.1" y2="302.7" stroke="#c47c0c" stroke-width="5.5" stroke-linecap="butt"/>
<line x1="405.1" y1="302.7" x2="370.3" y2="316.4" stroke="#1a42d8" stroke-width="5.5" stroke-linecap="butt"/>
<line x1="440.0" y1="289.0" x2="440.6" y2="304.0" stroke="#c47c0c" stroke-width="5.5" stroke-linecap="butt"/>
<line x1="440.6" y1="304.0" x2="441.3" y2="319.0" stroke="#1a42d8" stroke-width="5.5" stroke-linecap="butt"/>
<line x1="440.0" y1="289.0" x2="467.2" y2="309.7" stroke="#c47c0c" stroke-width="5.5" stroke-linecap="butt"/>
<line x1="467.2" y1="309.7" x2="494.5" y2="330.4" stroke="#1a42d8" stroke-width="5.5" stroke-linecap="butt"/>
<line x1="509.5" y1="290.2" x2="475.4" y2="304.6" stroke="#c47c0c" stroke-width="5.5" stroke-linecap="butt"/>
<line x1="475.4" y1="304.6" x2="441.3" y2="319.0" stroke="#1a42d8" stroke-width="5.5" stroke-linecap="butt"/>
<line x1="509.5" y1="290.2" x2="502.0" y2="310.3" stroke="#c47c0c" stroke-width="5.5" stroke-linecap="butt"/>
<line x1="502.0" y1="310.3" x2="494.5" y2="330.4" stroke="#1a42d8" stroke-width="5.5" stroke-linecap="butt"/>
<line x1="509.5" y1="290.2" x2="533.8" y2="307.4" stroke="#c47c0c" stroke-width="5.5" stroke-linecap="butt"/>
<line x1="533.8" y1="307.4" x2="558.0" y2="324.6" stroke="#1a42d8" stroke-width="5.5" stroke-linecap="butt"/>
<line x1="552.7" y1="290.8" x2="523.6" y2="310.6" stroke="#c47c0c" stroke-width="5.5" stroke-linecap="butt"/>
<line x1="523.6" y1="310.6" x2="494.5" y2="330.4" stroke="#1a42d8" stroke-width="5.5" stroke-linecap="butt"/>
<line x1="552.7" y1="290.8" x2="555.4" y2="307.7" stroke="#c47c0c" stroke-width="5.5" stroke-linecap="butt"/>
<line x1="555.4" y1="307.7" x2="558.0" y2="324.6" stroke="#1a42d8" stroke-width="5.5" stroke-linecap="butt"/>
<line x1="552.7" y1="290.8" x2="587.9" y2="305.6" stroke="#c47c0c" stroke-width="5.5" stroke-linecap="butt"/>
<line x1="587.9" y1="305.6" x2="623.0" y2="320.5" stroke="#1a42d8" stroke-width="5.5" stroke-linecap="butt"/>
<line x1="616.0" y1="297.0" x2="587.0" y2="310.8" stroke="#c47c0c" stroke-width="5.5" stroke-linecap="butt"/>
<line x1="587.0" y1="310.8" x2="558.0" y2="324.6" stroke="#1a42d8" stroke-width="5.5" stroke-linecap="butt"/>
<line x1="616.0" y1="297.0" x2="619.5" y2="308.8" stroke="#c47c0c" stroke-width="5.5" stroke-linecap="butt"/>
<line x1="619.5" y1="308.8" x2="623.0" y2="320.5" stroke="#1a42d8" stroke-width="5.5" stroke-linecap="butt"/>
<line x1="616.0" y1="297.0" x2="651.4" y2="308.0" stroke="#c47c0c" stroke-width="5.5" stroke-linecap="butt"/>
<line x1="651.4" y1="308.0" x2="686.8" y2="319.0" stroke="#1a42d8" stroke-width="5.5" stroke-linecap="butt"/>
<line x1="690.2" y1="291.4" x2="656.6" y2="305.9" stroke="#c47c0c" stroke-width="5.5" stroke-linecap="butt"/>
<line x1="656.6" y1="305.9" x2="623.0" y2="320.5" stroke="#1a42d8" stroke-width="5.5" stroke-linecap="butt"/>
<line x1="690.2" y1="291.4" x2="688.5" y2="305.2" stroke="#c47c0c" stroke-width="5.5" stroke-linecap="butt"/>
<line x1="688.5" y1="305.2" x2="686.8" y2="319.0" stroke="#1a42d8" stroke-width="5.5" stroke-linecap="butt"/>
<line x1="690.2" y1="291.4" x2="721.1" y2="309.4" stroke="#c47c0c" stroke-width="5.5" stroke-linecap="butt"/>
<line x1="721.1" y1="309.4" x2="752.0" y2="327.5" stroke="#1a42d8" stroke-width="5.5" stroke-linecap="butt"/>
<line x1="370.0" y1="311.0" x2="405.6" y2="315.0" stroke="#c47c0c" stroke-width="5.5" stroke-linecap="butt"/>
<line x1="405.6" y1="315.0" x2="441.3" y2="319.0" stroke="#1a42d8" stroke-width="5.5" stroke-linecap="butt"/>
<line x1="370.0" y1="311.0" x2="370.1" y2="313.7" stroke="#c47c0c" stroke-width="5.5" stroke-linecap="butt"/>
<line x1="370.1" y1="313.7" x2="370.3" y2="316.4" stroke="#1a42d8" stroke-width="5.5" stroke-linecap="butt"/>
<line x1="370.0" y1="311.0" x2="297.0" y2="287.0" stroke="#c47c0c" stroke-width="5.5"/>
<line x1="370.0" y1="311.0" x2="333.0" y2="316.5" stroke="#c47c0c" stroke-width="5.5" stroke-linecap="butt"/>
<line x1="333.0" y1="316.5" x2="296.0" y2="322.0" stroke="#1a42d8" stroke-width="5.5" stroke-linecap="butt"/>
<line x1="297.0" y1="287.0" x2="333.6" y2="301.7" stroke="#c47c0c" stroke-width="5.5" stroke-linecap="butt"/>
<line x1="333.6" y1="301.7" x2="370.3" y2="316.4" stroke="#1a42d8" stroke-width="5.5" stroke-linecap="butt"/>
<line x1="370.3" y1="316.4" x2="351.0" y2="385.2" stroke="#1a42d8" stroke-width="5.5"/>
<line x1="370.0" y1="311.0" x2="360.5" y2="348.1" stroke="#c47c0c" stroke-width="5.5" stroke-linecap="butt"/>
<line x1="360.5" y1="348.1" x2="351.0" y2="385.2" stroke="#1a42d8" stroke-width="5.5" stroke-linecap="butt"/>
<line x1="441.3" y1="319.0" x2="427.4" y2="370.0" stroke="#1a42d8" stroke-width="5.5"/>
<line x1="422.4" y1="396.5" x2="431.9" y2="357.8" stroke="#c47c0c" stroke-width="5.5" stroke-linecap="butt"/>
<line x1="431.9" y1="357.8" x2="441.3" y2="319.0" stroke="#1a42d8" stroke-width="5.5" stroke-linecap="butt"/>
<line x1="494.5" y1="330.4" x2="494.6" y2="374.0" stroke="#1a42d8" stroke-width="5.5"/>
<line x1="558.0" y1="324.6" x2="557.5" y2="374.0" stroke="#1a42d8" stroke-width="5.5"/>
<line x1="556.3" y1="402.5" x2="557.1" y2="363.6" stroke="#c47c0c" stroke-width="5.5" stroke-linecap="butt"/>
<line x1="557.1" y1="363.6" x2="558.0" y2="324.6" stroke="#1a42d8" stroke-width="5.5" stroke-linecap="butt"/>
<line x1="623.0" y1="320.5" x2="622.7" y2="376.3" stroke="#1a42d8" stroke-width="5.5"/>
<line x1="686.8" y1="319.0" x2="685.2" y2="372.6" stroke="#1a42d8" stroke-width="5.5"/>
<line x1="690.3" y1="400.2" x2="688.5" y2="359.6" stroke="#c47c0c" stroke-width="5.5" stroke-linecap="butt"/>
<line x1="688.5" y1="359.6" x2="686.8" y2="319.0" stroke="#1a42d8" stroke-width="5.5" stroke-linecap="butt"/>
<line x1="752.0" y1="327.5" x2="685.2" y2="372.6" stroke="#1a42d8" stroke-width="5.5"/>
<line x1="752.0" y1="327.5" x2="749.5" y2="368.0" stroke="#1a42d8" stroke-width="5.5"/>
<line x1="351.0" y1="385.2" x2="386.7" y2="390.9" stroke="#1a42d8" stroke-width="5.5" stroke-linecap="butt"/>
<line x1="386.7" y1="390.9" x2="422.4" y2="396.5" stroke="#c47c0c" stroke-width="5.5" stroke-linecap="butt"/>
<line x1="351.0" y1="385.2" x2="359.8" y2="392.1" stroke="#1a42d8" stroke-width="5.5" stroke-linecap="butt"/>
<line x1="359.8" y1="392.1" x2="368.5" y2="399.0" stroke="#c47c0c" stroke-width="5.5" stroke-linecap="butt"/>
<line x1="351.0" y1="385.2" x2="322.5" y2="391.6" stroke="#1a42d8" stroke-width="5.5" stroke-linecap="butt"/>
<line x1="322.5" y1="391.6" x2="294.0" y2="398.0" stroke="#c47c0c" stroke-width="5.5" stroke-linecap="butt"/>
<line x1="351.0" y1="385.2" x2="290.0" y2="372.0" stroke="#1a42d8" stroke-width="5.5"/>
<line x1="290.0" y1="372.0" x2="292.0" y2="385.0" stroke="#1a42d8" stroke-width="5.5" stroke-linecap="butt"/>
<line x1="292.0" y1="385.0" x2="294.0" y2="398.0" stroke="#c47c0c" stroke-width="5.5" stroke-linecap="butt"/>
<line x1="294.0" y1="398.0" x2="368.5" y2="399.0" stroke="#c47c0c" stroke-width="5.5"/>
<line x1="294.0" y1="398.0" x2="325.5" y2="408.2" stroke="#c47c0c" stroke-width="5.5" stroke-linecap="butt"/>
<line x1="325.5" y1="408.2" x2="357.0" y2="418.5" stroke="#1a42d8" stroke-width="5.5" stroke-linecap="butt"/>
<line x1="292.0" y1="421.0" x2="293.0" y2="409.5" stroke="#1a42d8" stroke-width="5.5" stroke-linecap="butt"/>
<line x1="293.0" y1="409.5" x2="294.0" y2="398.0" stroke="#c47c0c" stroke-width="5.5" stroke-linecap="butt"/>
<line x1="292.0" y1="421.0" x2="330.2" y2="410.0" stroke="#1a42d8" stroke-width="5.5" stroke-linecap="butt"/>
<line x1="330.2" y1="410.0" x2="368.5" y2="399.0" stroke="#c47c0c" stroke-width="5.5" stroke-linecap="butt"/>
<line x1="427.4" y1="370.0" x2="397.9" y2="384.5" stroke="#1a42d8" stroke-width="5.5" stroke-linecap="butt"/>
<line x1="397.9" y1="384.5" x2="368.5" y2="399.0" stroke="#c47c0c" stroke-width="5.5" stroke-linecap="butt"/>
<line x1="427.4" y1="370.0" x2="458.9" y2="386.2" stroke="#1a42d8" stroke-width="5.5" stroke-linecap="butt"/>
<line x1="458.9" y1="386.2" x2="490.5" y2="402.5" stroke="#c47c0c" stroke-width="5.5" stroke-linecap="butt"/>
<line x1="427.4" y1="370.0" x2="424.9" y2="383.2" stroke="#1a42d8" stroke-width="5.5" stroke-linecap="butt"/>
<line x1="424.9" y1="383.2" x2="422.4" y2="396.5" stroke="#c47c0c" stroke-width="5.5" stroke-linecap="butt"/>
<line x1="494.6" y1="374.0" x2="458.5" y2="385.2" stroke="#1a42d8" stroke-width="5.5" stroke-linecap="butt"/>
<line x1="458.5" y1="385.2" x2="422.4" y2="396.5" stroke="#c47c0c" stroke-width="5.5" stroke-linecap="butt"/>
<line x1="494.6" y1="374.0" x2="525.5" y2="388.2" stroke="#1a42d8" stroke-width="5.5" stroke-linecap="butt"/>
<line x1="525.5" y1="388.2" x2="556.3" y2="402.5" stroke="#c47c0c" stroke-width="5.5" stroke-linecap="butt"/>
<line x1="494.6" y1="374.0" x2="492.6" y2="388.2" stroke="#1a42d8" stroke-width="5.5" stroke-linecap="butt"/>
<line x1="492.6" y1="388.2" x2="490.5" y2="402.5" stroke="#c47c0c" stroke-width="5.5" stroke-linecap="butt"/>
<line x1="557.5" y1="374.0" x2="524.0" y2="388.2" stroke="#1a42d8" stroke-width="5.5" stroke-linecap="butt"/>
<line x1="524.0" y1="388.2" x2="490.5" y2="402.5" stroke="#c47c0c" stroke-width="5.5" stroke-linecap="butt"/>
<line x1="557.5" y1="374.0" x2="590.5" y2="387.8" stroke="#1a42d8" stroke-width="5.5" stroke-linecap="butt"/>
<line x1="590.5" y1="387.8" x2="623.5" y2="401.5" stroke="#c47c0c" stroke-width="5.5" stroke-linecap="butt"/>
<line x1="557.5" y1="374.0" x2="556.9" y2="388.2" stroke="#1a42d8" stroke-width="5.5" stroke-linecap="butt"/>
<line x1="556.9" y1="388.2" x2="556.3" y2="402.5" stroke="#c47c0c" stroke-width="5.5" stroke-linecap="butt"/>
<line x1="622.7" y1="376.3" x2="589.5" y2="389.4" stroke="#1a42d8" stroke-width="5.5" stroke-linecap="butt"/>
<line x1="589.5" y1="389.4" x2="556.3" y2="402.5" stroke="#c47c0c" stroke-width="5.5" stroke-linecap="butt"/>
<line x1="622.7" y1="376.3" x2="656.5" y2="388.2" stroke="#1a42d8" stroke-width="5.5" stroke-linecap="butt"/>
<line x1="656.5" y1="388.2" x2="690.3" y2="400.2" stroke="#c47c0c" stroke-width="5.5" stroke-linecap="butt"/>
<line x1="622.7" y1="376.3" x2="623.1" y2="388.9" stroke="#1a42d8" stroke-width="5.5" stroke-linecap="butt"/>
<line x1="623.1" y1="388.9" x2="623.5" y2="401.5" stroke="#c47c0c" stroke-width="5.5" stroke-linecap="butt"/>
<line x1="685.2" y1="372.6" x2="654.4" y2="387.1" stroke="#1a42d8" stroke-width="5.5" stroke-linecap="butt"/>
<line x1="654.4" y1="387.1" x2="623.5" y2="401.5" stroke="#c47c0c" stroke-width="5.5" stroke-linecap="butt"/>
<line x1="685.2" y1="372.6" x2="725.7" y2="385.1" stroke="#1a42d8" stroke-width="5.5" stroke-linecap="butt"/>
<line x1="725.7" y1="385.1" x2="766.2" y2="397.5" stroke="#c47c0c" stroke-width="5.5" stroke-linecap="butt"/>
<line x1="685.2" y1="372.6" x2="687.8" y2="386.4" stroke="#1a42d8" stroke-width="5.5" stroke-linecap="butt"/>
<line x1="687.8" y1="386.4" x2="690.3" y2="400.2" stroke="#c47c0c" stroke-width="5.5" stroke-linecap="butt"/>
<line x1="749.5" y1="368.0" x2="719.9" y2="384.1" stroke="#1a42d8" stroke-width="5.5" stroke-linecap="butt"/>
<line x1="719.9" y1="384.1" x2="690.3" y2="400.2" stroke="#c47c0c" stroke-width="5.5" stroke-linecap="butt"/>
<line x1="749.5" y1="368.0" x2="757.9" y2="382.8" stroke="#1a42d8" stroke-width="5.5" stroke-linecap="butt"/>
<line x1="757.9" y1="382.8" x2="766.2" y2="397.5" stroke="#c47c0c" stroke-width="5.5" stroke-linecap="butt"/>
<line x1="749.5" y1="368.0" x2="820.5" y2="406.0" stroke="#1a42d8" stroke-width="5.5"/>
<line x1="368.5" y1="399.0" x2="362.8" y2="408.8" stroke="#c47c0c" stroke-width="5.5" stroke-linecap="butt"/>
<line x1="362.8" y1="408.8" x2="357.0" y2="418.5" stroke="#1a42d8" stroke-width="5.5" stroke-linecap="butt"/>
<line x1="422.4" y1="396.5" x2="389.7" y2="407.5" stroke="#c47c0c" stroke-width="5.5" stroke-linecap="butt"/>
<line x1="389.7" y1="407.5" x2="357.0" y2="418.5" stroke="#1a42d8" stroke-width="5.5" stroke-linecap="butt"/>
<line x1="422.4" y1="396.5" x2="425.3" y2="407.8" stroke="#c47c0c" stroke-width="5.5" stroke-linecap="butt"/>
<line x1="425.3" y1="407.8" x2="428.2" y2="419.0" stroke="#1a42d8" stroke-width="5.5" stroke-linecap="butt"/>
<line x1="422.4" y1="396.5" x2="455.5" y2="408.8" stroke="#c47c0c" stroke-width="5.5" stroke-linecap="butt"/>
<line x1="455.5" y1="408.8" x2="488.7" y2="421.0" stroke="#1a42d8" stroke-width="5.5" stroke-linecap="butt"/>
<line x1="490.5" y1="402.5" x2="459.4" y2="410.8" stroke="#c47c0c" stroke-width="5.5" stroke-linecap="butt"/>
<line x1="459.4" y1="410.8" x2="428.2" y2="419.0" stroke="#1a42d8" stroke-width="5.5" stroke-linecap="butt"/>
<line x1="490.5" y1="402.5" x2="489.6" y2="411.8" stroke="#c47c0c" stroke-width="5.5" stroke-linecap="butt"/>
<line x1="489.6" y1="411.8" x2="488.7" y2="421.0" stroke="#1a42d8" stroke-width="5.5" stroke-linecap="butt"/>
<line x1="490.5" y1="402.5" x2="524.1" y2="411.8" stroke="#c47c0c" stroke-width="5.5" stroke-linecap="butt"/>
<line x1="524.1" y1="411.8" x2="557.8" y2="421.0" stroke="#1a42d8" stroke-width="5.5" stroke-linecap="butt"/>
<line x1="556.3" y1="402.5" x2="522.5" y2="411.8" stroke="#c47c0c" stroke-width="5.5" stroke-linecap="butt"/>
<line x1="522.5" y1="411.8" x2="488.7" y2="421.0" stroke="#1a42d8" stroke-width="5.5" stroke-linecap="butt"/>
<line x1="556.3" y1="402.5" x2="557.0" y2="411.8" stroke="#c47c0c" stroke-width="5.5" stroke-linecap="butt"/>
<line x1="557.0" y1="411.8" x2="557.8" y2="421.0" stroke="#1a42d8" stroke-width="5.5" stroke-linecap="butt"/>
<line x1="556.3" y1="402.5" x2="589.9" y2="411.8" stroke="#c47c0c" stroke-width="5.5" stroke-linecap="butt"/>
<line x1="589.9" y1="411.8" x2="623.5" y2="421.0" stroke="#1a42d8" stroke-width="5.5" stroke-linecap="butt"/>
<line x1="623.5" y1="401.5" x2="590.6" y2="411.2" stroke="#c47c0c" stroke-width="5.5" stroke-linecap="butt"/>
<line x1="590.6" y1="411.2" x2="557.8" y2="421.0" stroke="#1a42d8" stroke-width="5.5" stroke-linecap="butt"/>
<line x1="623.5" y1="401.5" x2="623.5" y2="411.2" stroke="#c47c0c" stroke-width="5.5" stroke-linecap="butt"/>
<line x1="623.5" y1="411.2" x2="623.5" y2="421.0" stroke="#1a42d8" stroke-width="5.5" stroke-linecap="butt"/>
<line x1="623.5" y1="401.5" x2="658.1" y2="410.2" stroke="#c47c0c" stroke-width="5.5" stroke-linecap="butt"/>
<line x1="658.1" y1="410.2" x2="692.8" y2="419.0" stroke="#1a42d8" stroke-width="5.5" stroke-linecap="butt"/>
<line x1="690.3" y1="400.2" x2="656.9" y2="410.6" stroke="#c47c0c" stroke-width="5.5" stroke-linecap="butt"/>
<line x1="656.9" y1="410.6" x2="623.5" y2="421.0" stroke="#1a42d8" stroke-width="5.5" stroke-linecap="butt"/>
<line x1="690.3" y1="400.2" x2="691.5" y2="409.6" stroke="#c47c0c" stroke-width="5.5" stroke-linecap="butt"/>
<line x1="691.5" y1="409.6" x2="692.8" y2="419.0" stroke="#1a42d8" stroke-width="5.5" stroke-linecap="butt"/>
<line x1="690.3" y1="400.2" x2="722.1" y2="407.7" stroke="#c47c0c" stroke-width="5.5" stroke-linecap="butt"/>
<line x1="722.1" y1="407.7" x2="754.0" y2="415.2" stroke="#1a42d8" stroke-width="5.5" stroke-linecap="butt"/>
<line x1="766.2" y1="397.5" x2="760.1" y2="406.4" stroke="#c47c0c" stroke-width="5.5" stroke-linecap="butt"/>
<line x1="760.1" y1="406.4" x2="754.0" y2="415.2" stroke="#1a42d8" stroke-width="5.5" stroke-linecap="butt"/>
<line x1="766.2" y1="397.5" x2="793.4" y2="401.8" stroke="#c47c0c" stroke-width="5.5" stroke-linecap="butt"/>
<line x1="793.4" y1="401.8" x2="820.5" y2="406.0" stroke="#1a42d8" stroke-width="5.5" stroke-linecap="butt"/>
<line x1="820.5" y1="406.0" x2="847.8" y2="415.2" stroke="#1a42d8" stroke-width="5.5"/>
<line x1="847.8" y1="415.2" x2="900.3" y2="402.0" stroke="#1a42d8" stroke-width="5.5"/>
<line x1="766.2" y1="397.5" x2="729.5" y2="408.2" stroke="#c47c0c" stroke-width="5.5" stroke-linecap="butt"/>
<line x1="729.5" y1="408.2" x2="692.8" y2="419.0" stroke="#1a42d8" stroke-width="5.5" stroke-linecap="butt"/>
<line x1="368.5" y1="399.0" x2="357.5" y2="438.5" stroke="#c47c0c" stroke-width="5.0" stroke-linecap="butt"/>
<line x1="357.5" y1="438.5" x2="346.5" y2="478.0" stroke="#1a42d8" stroke-width="5.0" stroke-linecap="butt"/>
<line x1="422.4" y1="396.5" x2="417.6" y2="437.8" stroke="#c47c0c" stroke-width="5.0" stroke-linecap="butt"/>
<line x1="417.6" y1="437.8" x2="412.8" y2="479.0" stroke="#1a42d8" stroke-width="5.0" stroke-linecap="butt"/>
<line x1="490.5" y1="402.5" x2="484.8" y2="442.0" stroke="#c47c0c" stroke-width="5.0" stroke-linecap="butt"/>
<line x1="484.8" y1="442.0" x2="479.0" y2="481.5" stroke="#1a42d8" stroke-width="5.0" stroke-linecap="butt"/>
<line x1="556.3" y1="402.5" x2="550.8" y2="442.0" stroke="#c47c0c" stroke-width="5.0" stroke-linecap="butt"/>
<line x1="550.8" y1="442.0" x2="545.2" y2="481.5" stroke="#1a42d8" stroke-width="5.0" stroke-linecap="butt"/>
<line x1="623.5" y1="401.5" x2="617.5" y2="441.5" stroke="#c47c0c" stroke-width="5.0" stroke-linecap="butt"/>
<line x1="617.5" y1="441.5" x2="611.5" y2="481.5" stroke="#1a42d8" stroke-width="5.0" stroke-linecap="butt"/>
<line x1="690.3" y1="400.2" x2="684.0" y2="440.4" stroke="#c47c0c" stroke-width="5.0" stroke-linecap="butt"/>
<line x1="684.0" y1="440.4" x2="677.8" y2="480.5" stroke="#1a42d8" stroke-width="5.0" stroke-linecap="butt"/>
<line x1="766.2" y1="397.5" x2="755.1" y2="438.5" stroke="#c47c0c" stroke-width="5.0" stroke-linecap="butt"/>
<line x1="755.1" y1="438.5" x2="744.0" y2="479.5" stroke="#1a42d8" stroke-width="5.0" stroke-linecap="butt"/>
<line x1="820.5" y1="406.0" x2="808.8" y2="485.5" stroke="#1a42d8" stroke-width="5.0"/>
<line x1="847.8" y1="415.2" x2="875.0" y2="485.5" stroke="#1a42d8" stroke-width="5.0"/>
<circle cx="441.0" cy="197.0" r="15.7" fill="url(#go)"/>
<circle cx="576.3" cy="175.0" r="15.7" fill="url(#go)"/>
<circle cx="569.5" cy="251.0" r="15.1" fill="url(#gb)"/>
<circle cx="683.0" cy="272.6" r="15.1" fill="url(#gb)"/>
<circle cx="436.5" cy="273.0" r="15.1" fill="url(#gb)"/>
<circle cx="616.0" cy="297.0" r="15.7" fill="url(#go)"/>
<circle cx="427.4" cy="370.0" r="15.1" fill="url(#gb)"/>
<circle cx="557.5" cy="374.0" r="15.1" fill="url(#gb)"/>
<circle cx="685.2" cy="372.6" r="15.1" fill="url(#gb)"/>
<circle cx="368.5" cy="399.0" r="15.7" fill="url(#go)"/>
<circle cx="490.5" cy="402.5" r="15.7" fill="url(#go)"/>
<circle cx="623.5" cy="401.5" r="15.7" fill="url(#go)"/>
<circle cx="820.5" cy="406.0" r="15.1" fill="url(#gb)"/>
<line x1="422.4" y1="396.5" x2="431.9" y2="357.8" stroke="#c47c0c" stroke-width="5.5" stroke-linecap="butt"/>
<line x1="431.9" y1="357.8" x2="441.3" y2="319.0" stroke="#1a42d8" stroke-width="5.5" stroke-linecap="butt"/>
<line x1="556.3" y1="402.5" x2="557.1" y2="363.6" stroke="#c47c0c" stroke-width="5.5" stroke-linecap="butt"/>
<line x1="557.1" y1="363.6" x2="558.0" y2="324.6" stroke="#1a42d8" stroke-width="5.5" stroke-linecap="butt"/>
<line x1="690.3" y1="400.2" x2="688.5" y2="359.6" stroke="#c47c0c" stroke-width="5.5" stroke-linecap="butt"/>
<line x1="688.5" y1="359.6" x2="686.8" y2="319.0" stroke="#1a42d8" stroke-width="5.5" stroke-linecap="butt"/>
<line x1="561.5" y1="213.0" x2="592.1" y2="199.5" stroke="#1a42d8" stroke-width="5.5" stroke-linecap="butt"/>
<line x1="592.1" y1="199.5" x2="622.7" y2="186.0" stroke="#c47c0c" stroke-width="5.5" stroke-linecap="butt"/>
<line x1="422.4" y1="396.5" x2="455.5" y2="408.8" stroke="#c47c0c" stroke-width="5.5" stroke-linecap="butt"/>
<line x1="455.5" y1="408.8" x2="488.7" y2="421.0" stroke="#1a42d8" stroke-width="5.5" stroke-linecap="butt"/>
<line x1="556.3" y1="402.5" x2="522.5" y2="411.8" stroke="#c47c0c" stroke-width="5.5" stroke-linecap="butt"/>
<line x1="522.5" y1="411.8" x2="488.7" y2="421.0" stroke="#1a42d8" stroke-width="5.5" stroke-linecap="butt"/>
<line x1="556.3" y1="402.5" x2="589.9" y2="411.8" stroke="#c47c0c" stroke-width="5.5" stroke-linecap="butt"/>
<line x1="589.9" y1="411.8" x2="623.5" y2="421.0" stroke="#1a42d8" stroke-width="5.5" stroke-linecap="butt"/>
<line x1="690.3" y1="400.2" x2="656.9" y2="410.6" stroke="#c47c0c" stroke-width="5.5" stroke-linecap="butt"/>
<line x1="656.9" y1="410.6" x2="623.5" y2="421.0" stroke="#1a42d8" stroke-width="5.5" stroke-linecap="butt"/>
<line x1="441.0" y1="197.0" x2="493.8" y2="182.3" stroke="#c47c0c" stroke-width="5.5"/>
<line x1="367.0" y1="187.6" x2="441.0" y2="197.0" stroke="#c47c0c" stroke-width="5.5"/>
<line x1="618.8" y1="270.7" x2="585.8" y2="280.8" stroke="#1a42d8" stroke-width="5.5" stroke-linecap="butt"/>
<line x1="585.8" y1="280.8" x2="552.7" y2="290.8" stroke="#c47c0c" stroke-width="5.5" stroke-linecap="butt"/>
<line x1="618.8" y1="270.7" x2="654.5" y2="281.0" stroke="#1a42d8" stroke-width="5.5" stroke-linecap="butt"/>
<line x1="654.5" y1="281.0" x2="690.2" y2="291.4" stroke="#c47c0c" stroke-width="5.5" stroke-linecap="butt"/>
<line x1="752.0" y1="327.5" x2="685.2" y2="372.6" stroke="#1a42d8" stroke-width="5.5"/>
<line x1="441.3" y1="319.0" x2="427.4" y2="370.0" stroke="#1a42d8" stroke-width="5.5"/>
<line x1="558.0" y1="324.6" x2="557.5" y2="374.0" stroke="#1a42d8" stroke-width="5.5"/>
<line x1="686.8" y1="319.0" x2="685.2" y2="372.6" stroke="#1a42d8" stroke-width="5.5"/>
<line x1="368.5" y1="399.0" x2="362.8" y2="408.8" stroke="#c47c0c" stroke-width="5.5" stroke-linecap="butt"/>
<line x1="362.8" y1="408.8" x2="357.0" y2="418.5" stroke="#1a42d8" stroke-width="5.5" stroke-linecap="butt"/>
<line x1="422.4" y1="396.5" x2="389.7" y2="407.5" stroke="#c47c0c" stroke-width="5.5" stroke-linecap="butt"/>
<line x1="389.7" y1="407.5" x2="357.0" y2="418.5" stroke="#1a42d8" stroke-width="5.5" stroke-linecap="butt"/>
<circle cx="554.3" cy="153.0" r="15.1" fill="url(#gb)"/>
<circle cx="619.3" cy="157.3" r="15.1" fill="url(#gb)"/>
<circle cx="431.0" cy="171.0" r="15.1" fill="url(#gb)"/>
<circle cx="367.0" cy="187.6" r="15.7" fill="url(#go)"/>
<circle cx="493.8" cy="182.3" r="15.7" fill="url(#go)"/>
<circle cx="622.7" cy="186.0" r="15.7" fill="url(#go)"/>
<circle cx="370.5" cy="229.3" r="15.1" fill="url(#gb)"/>
<circle cx="427.4" cy="215.0" r="15.1" fill="url(#gb)"/>
<circle cx="505.0" cy="209.0" r="15.1" fill="url(#gb)"/>
<circle cx="561.5" cy="213.0" r="15.1" fill="url(#gb)"/>
<circle cx="638.9" cy="218.0" r="15.1" fill="url(#gb)"/>
<circle cx="683.0" cy="219.5" r="15.1" fill="url(#gb)"/>
<circle cx="368.6" cy="271.4" r="15.1" fill="url(#gb)"/>
<circle cx="500.0" cy="261.4" r="15.1" fill="url(#gb)"/>
<circle cx="618.8" cy="270.7" r="15.1" fill="url(#gb)"/>
<circle cx="440.0" cy="289.0" r="15.7" fill="url(#go)"/>
<circle cx="509.5" cy="290.2" r="15.7" fill="url(#go)"/>
<circle cx="552.7" cy="290.8" r="15.7" fill="url(#go)"/>
<circle cx="690.2" cy="291.4" r="15.7" fill="url(#go)"/>
<circle cx="370.3" cy="316.4" r="15.1" fill="url(#gb)"/>
<circle cx="441.3" cy="319.0" r="15.1" fill="url(#gb)"/>
<circle cx="494.5" cy="330.4" r="15.1" fill="url(#gb)"/>
<circle cx="558.0" cy="324.6" r="15.1" fill="url(#gb)"/>
<circle cx="623.0" cy="320.5" r="15.1" fill="url(#gb)"/>
<circle cx="686.8" cy="319.0" r="15.1" fill="url(#gb)"/>
<circle cx="752.0" cy="327.5" r="15.1" fill="url(#gb)"/>
<circle cx="494.6" cy="374.0" r="15.1" fill="url(#gb)"/>
<circle cx="622.7" cy="376.3" r="15.1" fill="url(#gb)"/>
<circle cx="749.5" cy="368.0" r="15.1" fill="url(#gb)"/>
<circle cx="351.0" cy="385.2" r="15.1" fill="url(#gb)"/>
<circle cx="422.4" cy="396.5" r="15.7" fill="url(#go)"/>
<circle cx="556.3" cy="402.5" r="15.7" fill="url(#go)"/>
<circle cx="690.3" cy="400.2" r="15.7" fill="url(#go)"/>
<circle cx="766.2" cy="397.5" r="15.7" fill="url(#go)"/>
<circle cx="357.0" cy="418.5" r="15.1" fill="url(#gb)"/>
<circle cx="428.2" cy="419.0" r="15.1" fill="url(#gb)"/>
<circle cx="488.7" cy="421.0" r="15.1" fill="url(#gb)"/>
<circle cx="557.8" cy="421.0" r="15.1" fill="url(#gb)"/>
<circle cx="623.5" cy="421.0" r="15.1" fill="url(#gb)"/>
<circle cx="692.8" cy="419.0" r="15.1" fill="url(#gb)"/>
<circle cx="754.0" cy="415.2" r="15.1" fill="url(#gb)"/>
<circle cx="847.8" cy="415.2" r="15.1" fill="url(#gb)"/>
<circle cx="900.3" cy="402.0" r="15.1" fill="url(#gb)"/>
<circle cx="346.5" cy="478.0" r="14.9" fill="url(#gb)"/>
<circle cx="345.0" cy="513.5" r="14.9" fill="url(#gb)"/>
<circle cx="345.0" cy="593.5" r="14.9" fill="url(#gb)"/>
<circle cx="345.0" cy="623.0" r="14.9" fill="url(#gb)"/>
<circle cx="345.0" cy="702.5" r="15.4" fill="url(#gb)"/>
<circle cx="412.8" cy="479.0" r="14.9" fill="url(#gb)"/>
<circle cx="411.2" cy="513.5" r="14.9" fill="url(#gb)"/>
<circle cx="411.2" cy="593.5" r="14.9" fill="url(#gb)"/>
<circle cx="411.2" cy="623.0" r="14.9" fill="url(#gb)"/>
<circle cx="411.2" cy="702.5" r="15.4" fill="url(#gb)"/>
<circle cx="479.0" cy="481.5" r="14.9" fill="url(#gb)"/>
<circle cx="477.5" cy="513.5" r="14.9" fill="url(#gb)"/>
<circle cx="477.5" cy="593.5" r="14.9" fill="url(#gb)"/>
<circle cx="477.5" cy="623.0" r="14.9" fill="url(#gb)"/>
<circle cx="477.5" cy="702.5" r="15.4" fill="url(#gb)"/>
<circle cx="545.2" cy="481.5" r="14.9" fill="url(#gb)"/>
<circle cx="543.8" cy="513.5" r="14.9" fill="url(#gb)"/>
<circle cx="543.8" cy="593.5" r="14.9" fill="url(#gb)"/>
<circle cx="543.8" cy="623.0" r="14.9" fill="url(#gb)"/>
<circle cx="543.8" cy="702.5" r="15.4" fill="url(#gb)"/>
<circle cx="611.5" cy="481.5" r="14.9" fill="url(#gb)"/>
<circle cx="610.0" cy="513.5" r="14.9" fill="url(#gb)"/>
<circle cx="610.0" cy="593.5" r="14.9" fill="url(#gb)"/>
<circle cx="610.0" cy="623.0" r="14.9" fill="url(#gb)"/>
<circle cx="610.0" cy="702.5" r="15.4" fill="url(#gb)"/>
<circle cx="677.8" cy="480.5" r="14.9" fill="url(#gb)"/>
<circle cx="676.2" cy="513.5" r="14.9" fill="url(#gb)"/>
<circle cx="676.2" cy="593.5" r="14.9" fill="url(#gb)"/>
<circle cx="676.2" cy="623.0" r="14.9" fill="url(#gb)"/>
<circle cx="676.2" cy="702.5" r="15.4" fill="url(#gb)"/>
<circle cx="744.0" cy="479.5" r="14.9" fill="url(#gb)"/>
<circle cx="742.5" cy="513.5" r="14.9" fill="url(#gb)"/>
<circle cx="742.5" cy="593.5" r="14.9" fill="url(#gb)"/>
<circle cx="742.5" cy="623.0" r="14.9" fill="url(#gb)"/>
<circle cx="742.5" cy="702.5" r="15.4" fill="url(#gb)"/>
<circle cx="808.8" cy="485.5" r="14.9" fill="url(#gb)"/>
<circle cx="808.8" cy="513.5" r="14.9" fill="url(#gb)"/>
<circle cx="808.8" cy="593.5" r="14.9" fill="url(#gb)"/>
<circle cx="808.8" cy="623.0" r="14.9" fill="url(#gb)"/>
<circle cx="808.8" cy="702.5" r="15.4" fill="url(#gb)"/>
<circle cx="875.0" cy="485.5" r="14.9" fill="url(#gb)"/>
<circle cx="875.0" cy="513.5" r="14.9" fill="url(#gb)"/>
<circle cx="875.0" cy="593.5" r="14.9" fill="url(#gb)"/>
<circle cx="875.0" cy="623.0" r="14.9" fill="url(#gb)"/>
<circle cx="875.0" cy="702.5" r="15.4" fill="url(#gb)"/>
<circle cx="938.8" cy="478.0" r="14.9" fill="url(#gb)"/>
<circle cx="941.2" cy="513.5" r="14.9" fill="url(#gb)"/>
<circle cx="941.2" cy="593.5" r="14.9" fill="url(#gb)"/>
<circle cx="941.2" cy="623.0" r="14.9" fill="url(#gb)"/>
<circle cx="941.2" cy="702.5" r="15.4" fill="url(#gb)"/>
<circle cx="1007.5" cy="485.0" r="14.9" fill="url(#gb)"/>
<circle cx="1007.5" cy="513.5" r="14.9" fill="url(#gb)"/>
<circle cx="1007.5" cy="593.5" r="14.9" fill="url(#gb)"/>
<circle cx="1007.5" cy="623.0" r="14.9" fill="url(#gb)"/>
<circle cx="1007.5" cy="702.5" r="15.4" fill="url(#gb)"/>
</g>
<clipPath id="cc"><rect x="330.5" y="900.0" width="723.5" height="660.0"/></clipPath>
<g clip-path="url(#cc)" stroke-linecap="round">
<line x1="366.9" y1="1312.5" x2="366.9" y2="1396.0" stroke="#6e84ea" stroke-width="8.4" stroke-linecap="butt"/>
<line x1="365.4" y1="1312.5" x2="365.4" y2="1396.0" stroke="#2f51dc" stroke-width="5.2" stroke-linecap="butt"/>
<line x1="366.9" y1="1426.0" x2="366.9" y2="1511.0" stroke="#6e84ea" stroke-width="8.4" stroke-linecap="butt"/>
<line x1="365.4" y1="1426.0" x2="365.4" y2="1511.0" stroke="#2f51dc" stroke-width="5.2" stroke-linecap="butt"/>
<line x1="366.2" y1="1277.5" x2="366.2" y2="1312.5" stroke="#0a2bb0" stroke-width="6.0"/>
<line x1="366.2" y1="1396.0" x2="366.2" y2="1426.0" stroke="#0a2bb0" stroke-width="6.0"/>
<line x1="436.0" y1="1312.5" x2="436.0" y2="1396.0" stroke="#6e84ea" stroke-width="8.4" stroke-linecap="butt"/>
<line x1="434.5" y1="1312.5" x2="434.5" y2="1396.0" stroke="#2f51dc" stroke-width="5.2" stroke-linecap="butt"/>
<line x1="436.0" y1="1426.0" x2="436.0" y2="1511.0" stroke="#6e84ea" stroke-width="8.4" stroke-linecap="butt"/>
<line x1="434.5" y1="1426.0" x2="434.5" y2="1511.0" stroke="#2f51dc" stroke-width="5.2" stroke-linecap="butt"/>
<line x1="435.4" y1="1277.5" x2="435.4" y2="1312.5" stroke="#0a2bb0" stroke-width="6.0"/>
<line x1="435.4" y1="1396.0" x2="435.4" y2="1426.0" stroke="#0a2bb0" stroke-width="6.0"/>
<line x1="505.2" y1="1312.5" x2="505.2" y2="1396.0" stroke="#6e84ea" stroke-width="8.4" stroke-linecap="butt"/>
<line x1="503.7" y1="1312.5" x2="503.7" y2="1396.0" stroke="#2f51dc" stroke-width="5.2" stroke-linecap="butt"/>
<line x1="505.2" y1="1426.0" x2="505.2" y2="1511.0" stroke="#6e84ea" stroke-width="8.4" stroke-linecap="butt"/>
<line x1="503.7" y1="1426.0" x2="503.7" y2="1511.0" stroke="#2f51dc" stroke-width="5.2" stroke-linecap="butt"/>
<line x1="504.6" y1="1277.5" x2="504.6" y2="1312.5" stroke="#0a2bb0" stroke-width="6.0"/>
<line x1="504.6" y1="1396.0" x2="504.6" y2="1426.0" stroke="#0a2bb0" stroke-width="6.0"/>
<line x1="574.3" y1="1312.5" x2="574.3" y2="1396.0" stroke="#6e84ea" stroke-width="8.4" stroke-linecap="butt"/>
<line x1="572.8" y1="1312.5" x2="572.8" y2="1396.0" stroke="#2f51dc" stroke-width="5.2" stroke-linecap="butt"/>
<line x1="574.3" y1="1426.0" x2="574.3" y2="1511.0" stroke="#6e84ea" stroke-width="8.4" stroke-linecap="butt"/>
<line x1="572.8" y1="1426.0" x2="572.8" y2="1511.0" stroke="#2f51dc" stroke-width="5.2" stroke-linecap="butt"/>
<line x1="573.7" y1="1277.5" x2="573.7" y2="1312.5" stroke="#0a2bb0" stroke-width="6.0"/>
<line x1="573.7" y1="1396.0" x2="573.7" y2="1426.0" stroke="#0a2bb0" stroke-width="6.0"/>
<line x1="643.5" y1="1312.5" x2="643.5" y2="1396.0" stroke="#6e84ea" stroke-width="8.4" stroke-linecap="butt"/>
<line x1="642.0" y1="1312.5" x2="642.0" y2="1396.0" stroke="#2f51dc" stroke-width="5.2" stroke-linecap="butt"/>
<line x1="643.5" y1="1426.0" x2="643.5" y2="1511.0" stroke="#6e84ea" stroke-width="8.4" stroke-linecap="butt"/>
<line x1="642.0" y1="1426.0" x2="642.0" y2="1511.0" stroke="#2f51dc" stroke-width="5.2" stroke-linecap="butt"/>
<line x1="642.9" y1="1277.5" x2="642.9" y2="1312.5" stroke="#0a2bb0" stroke-width="6.0"/>
<line x1="642.9" y1="1396.0" x2="642.9" y2="1426.0" stroke="#0a2bb0" stroke-width="6.0"/>
<line x1="712.6" y1="1312.5" x2="712.6" y2="1396.0" stroke="#6e84ea" stroke-width="8.4" stroke-linecap="butt"/>
<line x1="711.1" y1="1312.5" x2="711.1" y2="1396.0" stroke="#2f51dc" stroke-width="5.2" stroke-linecap="butt"/>
<line x1="712.6" y1="1426.0" x2="712.6" y2="1511.0" stroke="#6e84ea" stroke-width="8.4" stroke-linecap="butt"/>
<line x1="711.1" y1="1426.0" x2="711.1" y2="1511.0" stroke="#2f51dc" stroke-width="5.2" stroke-linecap="butt"/>
<line x1="712.0" y1="1277.5" x2="712.0" y2="1312.5" stroke="#0a2bb0" stroke-width="6.0"/>
<line x1="712.0" y1="1396.0" x2="712.0" y2="1426.0" stroke="#0a2bb0" stroke-width="6.0"/>
<line x1="781.8" y1="1312.5" x2="781.8" y2="1396.0" stroke="#6e84ea" stroke-width="8.4" stroke-linecap="butt"/>
<line x1="780.3" y1="1312.5" x2="780.3" y2="1396.0" stroke="#2f51dc" stroke-width="5.2" stroke-linecap="butt"/>
<line x1="781.8" y1="1426.0" x2="781.8" y2="1511.0" stroke="#6e84ea" stroke-width="8.4" stroke-linecap="butt"/>
<line x1="780.3" y1="1426.0" x2="780.3" y2="1511.0" stroke="#2f51dc" stroke-width="5.2" stroke-linecap="butt"/>
<line x1="781.2" y1="1277.5" x2="781.2" y2="1312.5" stroke="#0a2bb0" stroke-width="6.0"/>
<line x1="781.2" y1="1396.0" x2="781.2" y2="1426.0" stroke="#0a2bb0" stroke-width="6.0"/>
<line x1="850.9" y1="1312.5" x2="850.9" y2="1396.0" stroke="#6e84ea" stroke-width="8.4" stroke-linecap="butt"/>
<line x1="849.4" y1="1312.5" x2="849.4" y2="1396.0" stroke="#2f51dc" stroke-width="5.2" stroke-linecap="butt"/>
<line x1="850.9" y1="1426.0" x2="850.9" y2="1511.0" stroke="#6e84ea" stroke-width="8.4" stroke-linecap="butt"/>
<line x1="849.4" y1="1426.0" x2="849.4" y2="1511.0" stroke="#2f51dc" stroke-width="5.2" stroke-linecap="butt"/>
<line x1="850.3" y1="1273.5" x2="850.3" y2="1312.5" stroke="#0a2bb0" stroke-width="6.0"/>
<line x1="850.3" y1="1396.0" x2="850.3" y2="1426.0" stroke="#0a2bb0" stroke-width="6.0"/>
<line x1="920.1" y1="1312.5" x2="920.1" y2="1396.0" stroke="#6e84ea" stroke-width="8.4" stroke-linecap="butt"/>
<line x1="918.6" y1="1312.5" x2="918.6" y2="1396.0" stroke="#2f51dc" stroke-width="5.2" stroke-linecap="butt"/>
<line x1="920.1" y1="1426.0" x2="920.1" y2="1511.0" stroke="#6e84ea" stroke-width="8.4" stroke-linecap="butt"/>
<line x1="918.6" y1="1426.0" x2="918.6" y2="1511.0" stroke="#2f51dc" stroke-width="5.2" stroke-linecap="butt"/>
<line x1="919.5" y1="1273.5" x2="919.5" y2="1312.5" stroke="#0a2bb0" stroke-width="6.0"/>
<line x1="919.5" y1="1396.0" x2="919.5" y2="1426.0" stroke="#0a2bb0" stroke-width="6.0"/>
<line x1="989.2" y1="1312.5" x2="989.2" y2="1396.0" stroke="#6e84ea" stroke-width="8.4" stroke-linecap="butt"/>
<line x1="987.7" y1="1312.5" x2="987.7" y2="1396.0" stroke="#2f51dc" stroke-width="5.2" stroke-linecap="butt"/>
<line x1="989.2" y1="1426.0" x2="989.2" y2="1511.0" stroke="#6e84ea" stroke-width="8.4" stroke-linecap="butt"/>
<line x1="987.7" y1="1426.0" x2="987.7" y2="1511.0" stroke="#2f51dc" stroke-width="5.2" stroke-linecap="butt"/>
<line x1="988.6" y1="1273.5" x2="988.6" y2="1312.5" stroke="#0a2bb0" stroke-width="6.0"/>
<line x1="988.6" y1="1396.0" x2="988.6" y2="1426.0" stroke="#0a2bb0" stroke-width="6.0"/>
<line x1="1058.3" y1="1312.5" x2="1058.3" y2="1396.0" stroke="#6e84ea" stroke-width="8.4" stroke-linecap="butt"/>
<line x1="1056.8" y1="1312.5" x2="1056.8" y2="1396.0" stroke="#2f51dc" stroke-width="5.2" stroke-linecap="butt"/>
<line x1="1058.3" y1="1426.0" x2="1058.3" y2="1511.0" stroke="#6e84ea" stroke-width="8.4" stroke-linecap="butt"/>
<line x1="1056.8" y1="1426.0" x2="1056.8" y2="1511.0" stroke="#2f51dc" stroke-width="5.2" stroke-linecap="butt"/>
<line x1="1057.8" y1="1273.5" x2="1057.8" y2="1312.5" stroke="#0a2bb0" stroke-width="6.0"/>
<line x1="1057.8" y1="1396.0" x2="1057.8" y2="1426.0" stroke="#0a2bb0" stroke-width="6.0"/>
<polygon points="366.2,1278.5 400.8,1290.6 435.4,1278.5 435.4,1310.5 400.8,1301.0 366.2,1310.5" fill="#1a42d8"/>
<polygon points="369.8,1295.8 378.8,1292.9 389.8,1295.8 378.8,1298.7" fill="#fff"/>
<polygon points="431.9,1295.8 422.9,1292.9 411.9,1295.8 422.9,1298.7" fill="#fff"/>
<polygon points="366.2,1397.0 400.8,1406.6 435.4,1397.0 435.4,1424.0 400.8,1417.0 366.2,1424.0" fill="#1a42d8"/>
<polygon points="369.8,1411.8 378.8,1408.9 389.8,1411.8 378.8,1414.7" fill="#fff"/>
<polygon points="431.9,1411.8 422.9,1408.9 411.9,1411.8 422.9,1414.7" fill="#fff"/>
<polygon points="435.4,1278.5 470.0,1290.6 504.6,1278.5 504.6,1310.5 470.0,1301.0 435.4,1310.5" fill="#1a42d8"/>
<polygon points="438.9,1295.8 447.9,1292.9 458.9,1295.8 447.9,1298.7" fill="#fff"/>
<polygon points="501.1,1295.8 492.1,1292.9 481.1,1295.8 492.1,1298.7" fill="#fff"/>
<polygon points="435.4,1397.0 470.0,1406.6 504.6,1397.0 504.6,1424.0 470.0,1417.0 435.4,1424.0" fill="#1a42d8"/>
<polygon points="438.9,1411.8 447.9,1408.9 458.9,1411.8 447.9,1414.7" fill="#fff"/>
<polygon points="501.1,1411.8 492.1,1408.9 481.1,1411.8 492.1,1414.7" fill="#fff"/>
<polygon points="504.6,1278.5 539.1,1290.6 573.7,1278.5 573.7,1310.5 539.1,1301.0 504.6,1310.5" fill="#1a42d8"/>
<polygon points="508.1,1295.8 517.0,1292.9 528.0,1295.8 517.0,1298.7" fill="#fff"/>
<polygon points="570.2,1295.8 561.2,1292.9 550.2,1295.8 561.2,1298.7" fill="#fff"/>
<polygon points="504.6,1397.0 539.1,1406.6 573.7,1397.0 573.7,1424.0 539.1,1417.0 504.6,1424.0" fill="#1a42d8"/>
<polygon points="508.1,1411.8 517.0,1408.9 528.0,1411.8 517.0,1414.7" fill="#fff"/>
<polygon points="570.2,1411.8 561.2,1408.9 550.2,1411.8 561.2,1414.7" fill="#fff"/>
<polygon points="573.7,1278.5 608.3,1290.6 642.9,1278.5 642.9,1310.5 608.3,1301.0 573.7,1310.5" fill="#1a42d8"/>
<polygon points="577.2,1295.8 586.2,1292.9 597.2,1295.8 586.2,1298.7" fill="#fff"/>
<polygon points="639.4,1295.8 630.4,1292.9 619.4,1295.8 630.4,1298.7" fill="#fff"/>
<polygon points="573.7,1397.0 608.3,1406.6 642.9,1397.0 642.9,1424.0 608.3,1417.0 573.7,1424.0" fill="#1a42d8"/>
<polygon points="577.2,1411.8 586.2,1408.9 597.2,1411.8 586.2,1414.7" fill="#fff"/>
<polygon points="639.4,1411.8 630.4,1408.9 619.4,1411.8 630.4,1414.7" fill="#fff"/>
<polygon points="642.9,1278.5 677.4,1290.6 712.0,1278.5 712.0,1310.5 677.4,1301.0 642.9,1310.5" fill="#1a42d8"/>
<polygon points="646.4,1295.8 655.4,1292.9 666.4,1295.8 655.4,1298.7" fill="#fff"/>
<polygon points="708.5,1295.8 699.5,1292.9 688.5,1295.8 699.5,1298.7" fill="#fff"/>
<polygon points="642.9,1397.0 677.4,1406.6 712.0,1397.0 712.0,1424.0 677.4,1417.0 642.9,1424.0" fill="#1a42d8"/>
<polygon points="646.4,1411.8 655.4,1408.9 666.4,1411.8 655.4,1414.7" fill="#fff"/>
<polygon points="708.5,1411.8 699.5,1408.9 688.5,1411.8 699.5,1414.7" fill="#fff"/>
<polygon points="712.0,1278.5 746.6,1290.6 781.2,1278.5 781.2,1310.5 746.6,1301.0 712.0,1310.5" fill="#1a42d8"/>
<polygon points="715.5,1295.8 724.5,1292.9 735.5,1295.8 724.5,1298.7" fill="#fff"/>
<polygon points="777.7,1295.8 768.7,1292.9 757.7,1295.8 768.7,1298.7" fill="#fff"/>
<polygon points="712.0,1397.0 746.6,1406.6 781.2,1397.0 781.2,1424.0 746.6,1417.0 712.0,1424.0" fill="#1a42d8"/>
<polygon points="715.5,1411.8 724.5,1408.9 735.5,1411.8 724.5,1414.7" fill="#fff"/>
<polygon points="777.7,1411.8 768.7,1408.9 757.7,1411.8 768.7,1414.7" fill="#fff"/>
<polygon points="781.2,1278.5 815.7,1289.6 850.3,1274.5 850.3,1310.5 815.7,1300.0 781.2,1310.5" fill="#1a42d8"/>
<polygon points="784.7,1294.8 793.7,1291.9 804.7,1294.8 793.7,1297.7" fill="#fff"/>
<polygon points="846.8,1294.8 837.8,1291.9 826.8,1294.8 837.8,1297.7" fill="#fff"/>
<polygon points="781.2,1397.0 815.7,1406.6 850.3,1397.0 850.3,1424.0 815.7,1417.0 781.2,1424.0" fill="#1a42d8"/>
<polygon points="784.7,1411.8 793.7,1408.9 804.7,1411.8 793.7,1414.7" fill="#fff"/>
<polygon points="846.8,1411.8 837.8,1408.9 826.8,1411.8 837.8,1414.7" fill="#fff"/>
<line x1="850.3" y1="1312.5" x2="919.5" y2="1273.5" stroke="#1a42d8" stroke-width="5.5"/>
<polygon points="850.3,1397.0 884.9,1406.6 919.5,1397.0 919.5,1424.0 884.9,1417.0 850.3,1424.0" fill="#1a42d8"/>
<polygon points="853.8,1411.8 862.8,1408.9 873.8,1411.8 862.8,1414.7" fill="#fff"/>
<polygon points="916.0,1411.8 907.0,1408.9 896.0,1411.8 907.0,1414.7" fill="#fff"/>
<polygon points="919.5,1274.5 954.0,1288.6 988.6,1274.5 988.6,1310.5 954.0,1299.0 919.5,1310.5" fill="#1a42d8"/>
<polygon points="923.0,1293.8 932.0,1290.9 943.0,1293.8 932.0,1296.7" fill="#fff"/>
<polygon points="985.1,1293.8 976.1,1290.9 965.1,1293.8 976.1,1296.7" fill="#fff"/>
<polygon points="919.5,1397.0 954.0,1406.6 988.6,1397.0 988.6,1424.0 954.0,1417.0 919.5,1424.0" fill="#1a42d8"/>
<polygon points="923.0,1411.8 932.0,1408.9 943.0,1411.8 932.0,1414.7" fill="#fff"/>
<polygon points="985.1,1411.8 976.1,1408.9 965.1,1411.8 976.1,1414.7" fill="#fff"/>
<line x1="988.6" y1="1273.5" x2="1057.8" y2="1312.5" stroke="#1a42d8" stroke-width="5.5"/>
<polygon points="988.6,1397.0 1023.2,1406.6 1057.8,1397.0 1057.8,1424.0 1023.2,1417.0 988.6,1424.0" fill="#1a42d8"/>
<polygon points="992.1,1411.8 1001.1,1408.9 1012.1,1411.8 1001.1,1414.7" fill="#fff"/>
<polygon points="1054.2,1411.8 1045.2,1408.9 1034.2,1411.8 1045.2,1414.7" fill="#fff"/>
<circle cx="317.0" cy="971.0" r="15.7" fill="url(#go)"/>
<circle cx="308.0" cy="990.0" r="15.1" fill="url(#gb)"/>
<circle cx="304.0" cy="1077.0" r="15.7" fill="url(#go)"/>
<circle cx="300.0" cy="1050.0" r="15.1" fill="url(#gb)"/>
<circle cx="302.0" cy="1108.0" r="15.1" fill="url(#gb)"/>
<circle cx="306.0" cy="1194.0" r="15.7" fill="url(#go)"/>
<circle cx="300.0" cy="1162.0" r="15.1" fill="url(#gb)"/>
<circle cx="298.0" cy="1214.0" r="15.1" fill="url(#gb)"/>
<path d="M359.0 966.0 L402.9 954.4 L446.7 959.7" fill="none" stroke="#c47c0c" stroke-width="4.4" stroke-linejoin="round"/>
<path d="M359.0 966.0 L402.9 971.4 L446.7 959.7" fill="none" stroke="#c47c0c" stroke-width="4.4" stroke-linejoin="round"/>
<path d="M446.7 959.7 L473.6 952.0 L500.5 961.4" fill="none" stroke="#c47c0c" stroke-width="4.4" stroke-linejoin="round"/>
<path d="M446.7 959.7 L473.6 969.0 L500.5 961.4" fill="none" stroke="#c47c0c" stroke-width="4.4" stroke-linejoin="round"/>
<path d="M388.0 1078.4 L412.1 1068.3 L436.3 1075.2" fill="none" stroke="#c47c0c" stroke-width="4.4" stroke-linejoin="round"/>
<path d="M388.0 1078.4 L412.1 1085.3 L436.3 1075.2" fill="none" stroke="#c47c0c" stroke-width="4.4" stroke-linejoin="round"/>
<path d="M436.3 1075.2 L468.2 1069.8 L500.2 1081.5" fill="none" stroke="#c47c0c" stroke-width="4.4" stroke-linejoin="round"/>
<path d="M436.3 1075.2 L468.2 1086.8 L500.2 1081.5" fill="none" stroke="#c47c0c" stroke-width="4.4" stroke-linejoin="round"/>
<path d="M500.2 1081.5 L537.5 1068.4 L574.8 1072.3" fill="none" stroke="#c47c0c" stroke-width="4.4" stroke-linejoin="round"/>
<path d="M500.2 1081.5 L537.5 1085.4 L574.8 1072.3" fill="none" stroke="#c47c0c" stroke-width="4.4" stroke-linejoin="round"/>
<path d="M574.8 1072.3 L609.1 1063.3 L643.5 1071.3" fill="none" stroke="#c47c0c" stroke-width="4.4" stroke-linejoin="round"/>
<path d="M574.8 1072.3 L609.1 1080.3 L643.5 1071.3" fill="none" stroke="#c47c0c" stroke-width="4.4" stroke-linejoin="round"/>
<path d="M376.3 1192.5 L408.1 1185.9 L440.0 1196.3" fill="none" stroke="#c47c0c" stroke-width="4.4" stroke-linejoin="round"/>
<path d="M376.3 1192.5 L408.1 1202.9 L440.0 1196.3" fill="none" stroke="#c47c0c" stroke-width="4.4" stroke-linejoin="round"/>
<path d="M440.0 1196.3 L469.4 1186.5 L498.8 1193.8" fill="none" stroke="#c47c0c" stroke-width="4.4" stroke-linejoin="round"/>
<path d="M440.0 1196.3 L469.4 1203.5 L498.8 1193.8" fill="none" stroke="#c47c0c" stroke-width="4.4" stroke-linejoin="round"/>
<path d="M498.8 1193.8 L539.1 1184.4 L579.4 1192.0" fill="none" stroke="#c47c0c" stroke-width="4.4" stroke-linejoin="round"/>
<path d="M498.8 1193.8 L539.1 1201.4 L579.4 1192.0" fill="none" stroke="#c47c0c" stroke-width="4.4" stroke-linejoin="round"/>
<path d="M579.4 1192.0 L608.4 1183.8 L637.4 1192.5" fill="none" stroke="#c47c0c" stroke-width="4.4" stroke-linejoin="round"/>
<path d="M579.4 1192.0 L608.4 1200.8 L637.4 1192.5" fill="none" stroke="#c47c0c" stroke-width="4.4" stroke-linejoin="round"/>
<path d="M637.4 1192.5 L665.7 1185.8 L694.0 1196.0" fill="none" stroke="#c47c0c" stroke-width="4.4" stroke-linejoin="round"/>
<path d="M637.4 1192.5 L665.7 1202.8 L694.0 1196.0" fill="none" stroke="#c47c0c" stroke-width="4.4" stroke-linejoin="round"/>
<line x1="378.8" y1="943.0" x2="424.7" y2="937.0" stroke="#1a42d8" stroke-width="5.5"/>
<line x1="378.8" y1="943.0" x2="368.9" y2="954.5" stroke="#1a42d8" stroke-width="5.5" stroke-linecap="butt"/>
<line x1="368.9" y1="954.5" x2="359.0" y2="966.0" stroke="#c47c0c" stroke-width="5.5" stroke-linecap="butt"/>
<line x1="359.0" y1="966.0" x2="391.9" y2="951.5" stroke="#c47c0c" stroke-width="5.5" stroke-linecap="butt"/>
<line x1="391.9" y1="951.5" x2="424.7" y2="937.0" stroke="#1a42d8" stroke-width="5.5" stroke-linecap="butt"/>
<line x1="424.7" y1="937.0" x2="435.7" y2="948.4" stroke="#1a42d8" stroke-width="5.5" stroke-linecap="butt"/>
<line x1="435.7" y1="948.4" x2="446.7" y2="959.7" stroke="#c47c0c" stroke-width="5.5" stroke-linecap="butt"/>
<line x1="424.7" y1="937.0" x2="376.8" y2="996.7" stroke="#1a42d8" stroke-width="5.5"/>
<line x1="446.7" y1="959.7" x2="470.1" y2="946.1" stroke="#c47c0c" stroke-width="5.5" stroke-linecap="butt"/>
<line x1="470.1" y1="946.1" x2="493.5" y2="932.5" stroke="#1a42d8" stroke-width="5.5" stroke-linecap="butt"/>
<line x1="446.7" y1="959.7" x2="411.8" y2="978.2" stroke="#c47c0c" stroke-width="5.5" stroke-linecap="butt"/>
<line x1="411.8" y1="978.2" x2="376.8" y2="996.7" stroke="#1a42d8" stroke-width="5.5" stroke-linecap="butt"/>
<line x1="493.5" y1="932.5" x2="497.0" y2="947.0" stroke="#1a42d8" stroke-width="5.5" stroke-linecap="butt"/>
<line x1="497.0" y1="947.0" x2="500.5" y2="961.4" stroke="#c47c0c" stroke-width="5.5" stroke-linecap="butt"/>
<line x1="493.5" y1="932.5" x2="436.0" y2="994.0" stroke="#1a42d8" stroke-width="5.5"/>
<line x1="500.5" y1="961.4" x2="468.2" y2="977.7" stroke="#c47c0c" stroke-width="5.5" stroke-linecap="butt"/>
<line x1="468.2" y1="977.7" x2="436.0" y2="994.0" stroke="#1a42d8" stroke-width="5.5" stroke-linecap="butt"/>
<line x1="500.5" y1="961.4" x2="504.7" y2="981.1" stroke="#c47c0c" stroke-width="5.5" stroke-linecap="butt"/>
<line x1="504.7" y1="981.1" x2="508.9" y2="1000.8" stroke="#1a42d8" stroke-width="5.5" stroke-linecap="butt"/>
<line x1="500.5" y1="961.4" x2="530.9" y2="977.7" stroke="#c47c0c" stroke-width="5.5" stroke-linecap="butt"/>
<line x1="530.9" y1="977.7" x2="561.2" y2="994.0" stroke="#1a42d8" stroke-width="5.5" stroke-linecap="butt"/>
<line x1="446.7" y1="959.7" x2="441.4" y2="976.9" stroke="#c47c0c" stroke-width="5.5" stroke-linecap="butt"/>
<line x1="441.4" y1="976.9" x2="436.0" y2="994.0" stroke="#1a42d8" stroke-width="5.5" stroke-linecap="butt"/>
<line x1="359.0" y1="966.0" x2="367.9" y2="981.4" stroke="#c47c0c" stroke-width="5.5" stroke-linecap="butt"/>
<line x1="367.9" y1="981.4" x2="376.8" y2="996.7" stroke="#1a42d8" stroke-width="5.5" stroke-linecap="butt"/>
<line x1="317.0" y1="971.0" x2="359.0" y2="966.0" stroke="#c47c0c" stroke-width="5.5"/>
<line x1="308.0" y1="990.0" x2="333.5" y2="978.0" stroke="#1a42d8" stroke-width="5.5" stroke-linecap="butt"/>
<line x1="333.5" y1="978.0" x2="359.0" y2="966.0" stroke="#c47c0c" stroke-width="5.5" stroke-linecap="butt"/>
<line x1="308.0" y1="990.0" x2="312.5" y2="980.5" stroke="#1a42d8" stroke-width="5.5" stroke-linecap="butt"/>
<line x1="312.5" y1="980.5" x2="317.0" y2="971.0" stroke="#c47c0c" stroke-width="5.5" stroke-linecap="butt"/>
<line x1="308.0" y1="990.0" x2="376.8" y2="996.7" stroke="#1a42d8" stroke-width="5.5"/>
<line x1="317.0" y1="971.0" x2="346.9" y2="983.9" stroke="#c47c0c" stroke-width="5.5" stroke-linecap="butt"/>
<line x1="346.9" y1="983.9" x2="376.8" y2="996.7" stroke="#1a42d8" stroke-width="5.5" stroke-linecap="butt"/>
<line x1="446.7" y1="959.7" x2="477.8" y2="980.2" stroke="#c47c0c" stroke-width="5.5" stroke-linecap="butt"/>
<line x1="477.8" y1="980.2" x2="508.9" y2="1000.8" stroke="#1a42d8" stroke-width="5.5" stroke-linecap="butt"/>
<line x1="376.8" y1="996.7" x2="366.8" y2="1049.0" stroke="#1a42d8" stroke-width="5.5"/>
<line x1="388.0" y1="1078.4" x2="382.4" y2="1037.6" stroke="#c47c0c" stroke-width="5.5" stroke-linecap="butt"/>
<line x1="382.4" y1="1037.6" x2="376.8" y2="996.7" stroke="#1a42d8" stroke-width="5.5" stroke-linecap="butt"/>
<line x1="436.0" y1="994.0" x2="443.0" y2="1044.0" stroke="#1a42d8" stroke-width="5.5"/>
<line x1="436.3" y1="1075.2" x2="436.1" y2="1034.6" stroke="#c47c0c" stroke-width="5.5" stroke-linecap="butt"/>
<line x1="436.1" y1="1034.6" x2="436.0" y2="994.0" stroke="#1a42d8" stroke-width="5.5" stroke-linecap="butt"/>
<line x1="508.9" y1="1000.8" x2="502.6" y2="1049.2" stroke="#1a42d8" stroke-width="5.5"/>
<line x1="500.2" y1="1081.5" x2="504.5" y2="1041.2" stroke="#c47c0c" stroke-width="5.5" stroke-linecap="butt"/>
<line x1="504.5" y1="1041.2" x2="508.9" y2="1000.8" stroke="#1a42d8" stroke-width="5.5" stroke-linecap="butt"/>
<line x1="561.2" y1="994.0" x2="502.6" y2="1049.2" stroke="#1a42d8" stroke-width="5.5"/>
<line x1="561.2" y1="994.0" x2="568.0" y2="1033.2" stroke="#1a42d8" stroke-width="5.5" stroke-linecap="butt"/>
<line x1="568.0" y1="1033.2" x2="574.8" y2="1072.3" stroke="#c47c0c" stroke-width="5.5" stroke-linecap="butt"/>
<line x1="561.2" y1="994.0" x2="569.5" y2="1052.0" stroke="#1a42d8" stroke-width="5.5"/>
<line x1="366.8" y1="1049.0" x2="377.4" y2="1063.7" stroke="#1a42d8" stroke-width="5.5" stroke-linecap="butt"/>
<line x1="377.4" y1="1063.7" x2="388.0" y2="1078.4" stroke="#c47c0c" stroke-width="5.5" stroke-linecap="butt"/>
<line x1="366.8" y1="1049.0" x2="401.6" y2="1062.1" stroke="#1a42d8" stroke-width="5.5" stroke-linecap="butt"/>
<line x1="401.6" y1="1062.1" x2="436.3" y2="1075.2" stroke="#c47c0c" stroke-width="5.5" stroke-linecap="butt"/>
<line x1="366.8" y1="1049.0" x2="335.4" y2="1063.0" stroke="#1a42d8" stroke-width="5.5" stroke-linecap="butt"/>
<line x1="335.4" y1="1063.0" x2="304.0" y2="1077.0" stroke="#c47c0c" stroke-width="5.5" stroke-linecap="butt"/>
<line x1="300.0" y1="1050.0" x2="302.0" y2="1063.5" stroke="#1a42d8" stroke-width="5.5" stroke-linecap="butt"/>
<line x1="302.0" y1="1063.5" x2="304.0" y2="1077.0" stroke="#c47c0c" stroke-width="5.5" stroke-linecap="butt"/>
<line x1="300.0" y1="1050.0" x2="344.0" y2="1064.2" stroke="#1a42d8" stroke-width="5.5" stroke-linecap="butt"/>
<line x1="344.0" y1="1064.2" x2="388.0" y2="1078.4" stroke="#c47c0c" stroke-width="5.5" stroke-linecap="butt"/>
<line x1="443.0" y1="1044.0" x2="415.5" y2="1061.2" stroke="#1a42d8" stroke-width="5.5" stroke-linecap="butt"/>
<line x1="415.5" y1="1061.2" x2="388.0" y2="1078.4" stroke="#c47c0c" stroke-width="5.5" stroke-linecap="butt"/>
<line x1="443.0" y1="1044.0" x2="471.6" y2="1062.8" stroke="#1a42d8" stroke-width="5.5" stroke-linecap="butt"/>
<line x1="471.6" y1="1062.8" x2="500.2" y2="1081.5" stroke="#c47c0c" stroke-width="5.5" stroke-linecap="butt"/>
<line x1="443.0" y1="1044.0" x2="439.6" y2="1059.6" stroke="#1a42d8" stroke-width="5.5" stroke-linecap="butt"/>
<line x1="439.6" y1="1059.6" x2="436.3" y2="1075.2" stroke="#c47c0c" stroke-width="5.5" stroke-linecap="butt"/>
<line x1="502.6" y1="1049.2" x2="469.5" y2="1062.2" stroke="#1a42d8" stroke-width="5.5" stroke-linecap="butt"/>
<line x1="469.5" y1="1062.2" x2="436.3" y2="1075.2" stroke="#c47c0c" stroke-width="5.5" stroke-linecap="butt"/>
<line x1="502.6" y1="1049.2" x2="538.7" y2="1060.8" stroke="#1a42d8" stroke-width="5.5" stroke-linecap="butt"/>
<line x1="538.7" y1="1060.8" x2="574.8" y2="1072.3" stroke="#c47c0c" stroke-width="5.5" stroke-linecap="butt"/>
<line x1="502.6" y1="1049.2" x2="501.4" y2="1065.3" stroke="#1a42d8" stroke-width="5.5" stroke-linecap="butt"/>
<line x1="501.4" y1="1065.3" x2="500.2" y2="1081.5" stroke="#c47c0c" stroke-width="5.5" stroke-linecap="butt"/>
<line x1="569.5" y1="1052.0" x2="534.9" y2="1066.8" stroke="#1a42d8" stroke-width="5.5" stroke-linecap="butt"/>
<line x1="534.9" y1="1066.8" x2="500.2" y2="1081.5" stroke="#c47c0c" stroke-width="5.5" stroke-linecap="butt"/>
<line x1="569.5" y1="1052.0" x2="606.5" y2="1061.7" stroke="#1a42d8" stroke-width="5.5" stroke-linecap="butt"/>
<line x1="606.5" y1="1061.7" x2="643.5" y2="1071.3" stroke="#c47c0c" stroke-width="5.5" stroke-linecap="butt"/>
<line x1="569.5" y1="1052.0" x2="572.1" y2="1062.2" stroke="#1a42d8" stroke-width="5.5" stroke-linecap="butt"/>
<line x1="572.1" y1="1062.2" x2="574.8" y2="1072.3" stroke="#c47c0c" stroke-width="5.5" stroke-linecap="butt"/>
<line x1="631.6" y1="1048.8" x2="603.2" y2="1060.5" stroke="#1a42d8" stroke-width="5.5" stroke-linecap="butt"/>
<line x1="603.2" y1="1060.5" x2="574.8" y2="1072.3" stroke="#c47c0c" stroke-width="5.5" stroke-linecap="butt"/>
<line x1="631.6" y1="1048.8" x2="637.5" y2="1060.0" stroke="#1a42d8" stroke-width="5.5" stroke-linecap="butt"/>
<line x1="637.5" y1="1060.0" x2="643.5" y2="1071.3" stroke="#c47c0c" stroke-width="5.5" stroke-linecap="butt"/>
<line x1="304.0" y1="1077.0" x2="388.0" y2="1078.4" stroke="#c47c0c" stroke-width="5.5"/>
<line x1="304.0" y1="1077.0" x2="339.4" y2="1091.8" stroke="#c47c0c" stroke-width="5.5" stroke-linecap="butt"/>
<line x1="339.4" y1="1091.8" x2="374.7" y2="1106.5" stroke="#1a42d8" stroke-width="5.5" stroke-linecap="butt"/>
<line x1="302.0" y1="1108.0" x2="303.0" y2="1092.5" stroke="#1a42d8" stroke-width="5.5" stroke-linecap="butt"/>
<line x1="303.0" y1="1092.5" x2="304.0" y2="1077.0" stroke="#c47c0c" stroke-width="5.5" stroke-linecap="butt"/>
<line x1="302.0" y1="1108.0" x2="345.0" y2="1093.2" stroke="#1a42d8" stroke-width="5.5" stroke-linecap="butt"/>
<line x1="345.0" y1="1093.2" x2="388.0" y2="1078.4" stroke="#c47c0c" stroke-width="5.5" stroke-linecap="butt"/>
<line x1="388.0" y1="1078.4" x2="381.4" y2="1092.5" stroke="#c47c0c" stroke-width="5.5" stroke-linecap="butt"/>
<line x1="381.4" y1="1092.5" x2="374.7" y2="1106.5" stroke="#1a42d8" stroke-width="5.5" stroke-linecap="butt"/>
<line x1="388.0" y1="1078.4" x2="416.5" y2="1099.2" stroke="#c47c0c" stroke-width="5.5" stroke-linecap="butt"/>
<line x1="416.5" y1="1099.2" x2="445.0" y2="1120.0" stroke="#1a42d8" stroke-width="5.5" stroke-linecap="butt"/>
<line x1="436.3" y1="1075.2" x2="405.5" y2="1090.8" stroke="#c47c0c" stroke-width="5.5" stroke-linecap="butt"/>
<line x1="405.5" y1="1090.8" x2="374.7" y2="1106.5" stroke="#1a42d8" stroke-width="5.5" stroke-linecap="butt"/>
<line x1="436.3" y1="1075.2" x2="440.6" y2="1097.6" stroke="#c47c0c" stroke-width="5.5" stroke-linecap="butt"/>
<line x1="440.6" y1="1097.6" x2="445.0" y2="1120.0" stroke="#1a42d8" stroke-width="5.5" stroke-linecap="butt"/>
<line x1="436.3" y1="1075.2" x2="470.5" y2="1090.8" stroke="#c47c0c" stroke-width="5.5" stroke-linecap="butt"/>
<line x1="470.5" y1="1090.8" x2="504.6" y2="1106.5" stroke="#1a42d8" stroke-width="5.5" stroke-linecap="butt"/>
<line x1="500.2" y1="1081.5" x2="472.6" y2="1100.8" stroke="#c47c0c" stroke-width="5.5" stroke-linecap="butt"/>
<line x1="472.6" y1="1100.8" x2="445.0" y2="1120.0" stroke="#1a42d8" stroke-width="5.5" stroke-linecap="butt"/>
<line x1="500.2" y1="1081.5" x2="502.4" y2="1094.0" stroke="#c47c0c" stroke-width="5.5" stroke-linecap="butt"/>
<line x1="502.4" y1="1094.0" x2="504.6" y2="1106.5" stroke="#1a42d8" stroke-width="5.5" stroke-linecap="butt"/>
<line x1="500.2" y1="1081.5" x2="535.8" y2="1094.1" stroke="#c47c0c" stroke-width="5.5" stroke-linecap="butt"/>
<line x1="535.8" y1="1094.1" x2="571.3" y2="1106.7" stroke="#1a42d8" stroke-width="5.5" stroke-linecap="butt"/>
<line x1="574.8" y1="1072.3" x2="539.7" y2="1089.4" stroke="#c47c0c" stroke-width="5.5" stroke-linecap="butt"/>
<line x1="539.7" y1="1089.4" x2="504.6" y2="1106.5" stroke="#1a42d8" stroke-width="5.5" stroke-linecap="butt"/>
<line x1="574.8" y1="1072.3" x2="573.0" y2="1089.5" stroke="#c47c0c" stroke-width="5.5" stroke-linecap="butt"/>
<line x1="573.0" y1="1089.5" x2="571.3" y2="1106.7" stroke="#1a42d8" stroke-width="5.5" stroke-linecap="butt"/>
<line x1="574.8" y1="1072.3" x2="607.6" y2="1090.4" stroke="#c47c0c" stroke-width="5.5" stroke-linecap="butt"/>
<line x1="607.6" y1="1090.4" x2="640.5" y2="1108.5" stroke="#1a42d8" stroke-width="5.5" stroke-linecap="butt"/>
<line x1="643.5" y1="1071.3" x2="607.4" y2="1089.0" stroke="#c47c0c" stroke-width="5.5" stroke-linecap="butt"/>
<line x1="607.4" y1="1089.0" x2="571.3" y2="1106.7" stroke="#1a42d8" stroke-width="5.5" stroke-linecap="butt"/>
<line x1="643.5" y1="1071.3" x2="642.0" y2="1089.9" stroke="#c47c0c" stroke-width="5.5" stroke-linecap="butt"/>
<line x1="642.0" y1="1089.9" x2="640.5" y2="1108.5" stroke="#1a42d8" stroke-width="5.5" stroke-linecap="butt"/>
<line x1="643.5" y1="1071.3" x2="675.5" y2="1091.3" stroke="#c47c0c" stroke-width="5.5" stroke-linecap="butt"/>
<line x1="675.5" y1="1091.3" x2="707.4" y2="1111.3" stroke="#1a42d8" stroke-width="5.5" stroke-linecap="butt"/>
<line x1="374.7" y1="1106.5" x2="375.0" y2="1162.5" stroke="#1a42d8" stroke-width="5.5"/>
<line x1="445.0" y1="1120.0" x2="435.0" y2="1156.5" stroke="#1a42d8" stroke-width="5.5"/>
<line x1="445.0" y1="1120.0" x2="505.5" y2="1167.0" stroke="#1a42d8" stroke-width="5.5"/>
<line x1="504.6" y1="1106.5" x2="505.5" y2="1167.0" stroke="#1a42d8" stroke-width="5.5"/>
<line x1="571.3" y1="1106.7" x2="571.5" y2="1158.8" stroke="#1a42d8" stroke-width="5.5"/>
<line x1="640.5" y1="1108.5" x2="638.8" y2="1151.0" stroke="#1a42d8" stroke-width="5.5"/>
<line x1="707.4" y1="1111.3" x2="638.8" y2="1151.0" stroke="#1a42d8" stroke-width="5.5"/>
<line x1="707.4" y1="1111.3" x2="707.0" y2="1156.5" stroke="#1a42d8" stroke-width="5.5"/>
<line x1="707.4" y1="1111.3" x2="769.0" y2="1162.5" stroke="#1a42d8" stroke-width="5.5"/>
<line x1="376.3" y1="1192.5" x2="375.5" y2="1149.5" stroke="#c47c0c" stroke-width="5.5" stroke-linecap="butt"/>
<line x1="375.5" y1="1149.5" x2="374.7" y2="1106.5" stroke="#1a42d8" stroke-width="5.5" stroke-linecap="butt"/>
<line x1="440.0" y1="1196.3" x2="442.5" y2="1158.2" stroke="#c47c0c" stroke-width="5.5" stroke-linecap="butt"/>
<line x1="442.5" y1="1158.2" x2="445.0" y2="1120.0" stroke="#1a42d8" stroke-width="5.5" stroke-linecap="butt"/>
<line x1="579.4" y1="1192.0" x2="575.3" y2="1149.3" stroke="#c47c0c" stroke-width="5.5" stroke-linecap="butt"/>
<line x1="575.3" y1="1149.3" x2="571.3" y2="1106.7" stroke="#1a42d8" stroke-width="5.5" stroke-linecap="butt"/>
<line x1="694.0" y1="1196.0" x2="700.7" y2="1153.7" stroke="#c47c0c" stroke-width="5.5" stroke-linecap="butt"/>
<line x1="700.7" y1="1153.7" x2="707.4" y2="1111.3" stroke="#1a42d8" stroke-width="5.5" stroke-linecap="butt"/>
<line x1="498.8" y1="1193.8" x2="501.7" y2="1150.2" stroke="#c47c0c" stroke-width="5.5" stroke-linecap="butt"/>
<line x1="501.7" y1="1150.2" x2="504.6" y2="1106.5" stroke="#1a42d8" stroke-width="5.5" stroke-linecap="butt"/>
<line x1="637.4" y1="1192.5" x2="639.0" y2="1150.5" stroke="#c47c0c" stroke-width="5.5" stroke-linecap="butt"/>
<line x1="639.0" y1="1150.5" x2="640.5" y2="1108.5" stroke="#1a42d8" stroke-width="5.5" stroke-linecap="butt"/>
<line x1="375.0" y1="1162.5" x2="375.6" y2="1177.5" stroke="#1a42d8" stroke-width="5.5" stroke-linecap="butt"/>
<line x1="375.6" y1="1177.5" x2="376.3" y2="1192.5" stroke="#c47c0c" stroke-width="5.5" stroke-linecap="butt"/>
<line x1="375.0" y1="1162.5" x2="407.5" y2="1179.4" stroke="#1a42d8" stroke-width="5.5" stroke-linecap="butt"/>
<line x1="407.5" y1="1179.4" x2="440.0" y2="1196.3" stroke="#c47c0c" stroke-width="5.5" stroke-linecap="butt"/>
<line x1="375.0" y1="1162.5" x2="340.5" y2="1178.2" stroke="#1a42d8" stroke-width="5.5" stroke-linecap="butt"/>
<line x1="340.5" y1="1178.2" x2="306.0" y2="1194.0" stroke="#c47c0c" stroke-width="5.5" stroke-linecap="butt"/>
<line x1="300.0" y1="1162.0" x2="303.0" y2="1178.0" stroke="#1a42d8" stroke-width="5.5" stroke-linecap="butt"/>
<line x1="303.0" y1="1178.0" x2="306.0" y2="1194.0" stroke="#c47c0c" stroke-width="5.5" stroke-linecap="butt"/>
<line x1="300.0" y1="1162.0" x2="338.1" y2="1177.2" stroke="#1a42d8" stroke-width="5.5" stroke-linecap="butt"/>
<line x1="338.1" y1="1177.2" x2="376.3" y2="1192.5" stroke="#c47c0c" stroke-width="5.5" stroke-linecap="butt"/>
<line x1="435.0" y1="1156.5" x2="405.6" y2="1174.5" stroke="#1a42d8" stroke-width="5.5" stroke-linecap="butt"/>
<line x1="405.6" y1="1174.5" x2="376.3" y2="1192.5" stroke="#c47c0c" stroke-width="5.5" stroke-linecap="butt"/>
<line x1="435.0" y1="1156.5" x2="437.5" y2="1176.4" stroke="#1a42d8" stroke-width="5.5" stroke-linecap="butt"/>
<line x1="437.5" y1="1176.4" x2="440.0" y2="1196.3" stroke="#c47c0c" stroke-width="5.5" stroke-linecap="butt"/>
<line x1="435.0" y1="1156.5" x2="466.9" y2="1175.2" stroke="#1a42d8" stroke-width="5.5" stroke-linecap="butt"/>
<line x1="466.9" y1="1175.2" x2="498.8" y2="1193.8" stroke="#c47c0c" stroke-width="5.5" stroke-linecap="butt"/>
<line x1="505.5" y1="1167.0" x2="472.8" y2="1181.7" stroke="#1a42d8" stroke-width="5.5" stroke-linecap="butt"/>
<line x1="472.8" y1="1181.7" x2="440.0" y2="1196.3" stroke="#c47c0c" stroke-width="5.5" stroke-linecap="butt"/>
<line x1="505.5" y1="1167.0" x2="502.1" y2="1180.4" stroke="#1a42d8" stroke-width="5.5" stroke-linecap="butt"/>
<line x1="502.1" y1="1180.4" x2="498.8" y2="1193.8" stroke="#c47c0c" stroke-width="5.5" stroke-linecap="butt"/>
<line x1="505.5" y1="1167.0" x2="542.5" y2="1179.5" stroke="#1a42d8" stroke-width="5.5" stroke-linecap="butt"/>
<line x1="542.5" y1="1179.5" x2="579.4" y2="1192.0" stroke="#c47c0c" stroke-width="5.5" stroke-linecap="butt"/>
<line x1="571.5" y1="1158.8" x2="535.1" y2="1176.3" stroke="#1a42d8" stroke-width="5.5" stroke-linecap="butt"/>
<line x1="535.1" y1="1176.3" x2="498.8" y2="1193.8" stroke="#c47c0c" stroke-width="5.5" stroke-linecap="butt"/>
<line x1="571.5" y1="1158.8" x2="575.5" y2="1175.4" stroke="#1a42d8" stroke-width="5.5" stroke-linecap="butt"/>
<line x1="575.5" y1="1175.4" x2="579.4" y2="1192.0" stroke="#c47c0c" stroke-width="5.5" stroke-linecap="butt"/>
<line x1="571.5" y1="1158.8" x2="604.5" y2="1175.7" stroke="#1a42d8" stroke-width="5.5" stroke-linecap="butt"/>
<line x1="604.5" y1="1175.7" x2="637.4" y2="1192.5" stroke="#c47c0c" stroke-width="5.5" stroke-linecap="butt"/>
<line x1="638.8" y1="1151.0" x2="609.1" y2="1171.5" stroke="#1a42d8" stroke-width="5.5" stroke-linecap="butt"/>
<line x1="609.1" y1="1171.5" x2="579.4" y2="1192.0" stroke="#c47c0c" stroke-width="5.5" stroke-linecap="butt"/>
<line x1="638.8" y1="1151.0" x2="638.1" y2="1171.8" stroke="#1a42d8" stroke-width="5.5" stroke-linecap="butt"/>
<line x1="638.1" y1="1171.8" x2="637.4" y2="1192.5" stroke="#c47c0c" stroke-width="5.5" stroke-linecap="butt"/>
<line x1="638.8" y1="1151.0" x2="666.4" y2="1173.5" stroke="#1a42d8" stroke-width="5.5" stroke-linecap="butt"/>
<line x1="666.4" y1="1173.5" x2="694.0" y2="1196.0" stroke="#c47c0c" stroke-width="5.5" stroke-linecap="butt"/>
<line x1="707.0" y1="1156.5" x2="672.2" y2="1174.5" stroke="#1a42d8" stroke-width="5.5" stroke-linecap="butt"/>
<line x1="672.2" y1="1174.5" x2="637.4" y2="1192.5" stroke="#c47c0c" stroke-width="5.5" stroke-linecap="butt"/>
<line x1="707.0" y1="1156.5" x2="700.5" y2="1176.2" stroke="#1a42d8" stroke-width="5.5" stroke-linecap="butt"/>
<line x1="700.5" y1="1176.2" x2="694.0" y2="1196.0" stroke="#c47c0c" stroke-width="5.5" stroke-linecap="butt"/>
<line x1="707.0" y1="1156.5" x2="744.4" y2="1174.0" stroke="#1a42d8" stroke-width="5.5" stroke-linecap="butt"/>
<line x1="744.4" y1="1174.0" x2="781.8" y2="1191.5" stroke="#c47c0c" stroke-width="5.5" stroke-linecap="butt"/>
<line x1="769.0" y1="1162.5" x2="731.5" y2="1179.2" stroke="#1a42d8" stroke-width="5.5" stroke-linecap="butt"/>
<line x1="731.5" y1="1179.2" x2="694.0" y2="1196.0" stroke="#c47c0c" stroke-width="5.5" stroke-linecap="butt"/>
<line x1="769.0" y1="1162.5" x2="775.4" y2="1177.0" stroke="#1a42d8" stroke-width="5.5" stroke-linecap="butt"/>
<line x1="775.4" y1="1177.0" x2="781.8" y2="1191.5" stroke="#c47c0c" stroke-width="5.5" stroke-linecap="butt"/>
<line x1="769.0" y1="1162.5" x2="768.0" y2="1205.0" stroke="#1a42d8" stroke-width="5.5"/>
<line x1="707.0" y1="1156.5" x2="768.0" y2="1205.0" stroke="#1a42d8" stroke-width="5.5"/>
<line x1="709.0" y1="1213.0" x2="769.0" y2="1162.5" stroke="#1a42d8" stroke-width="5.5"/>
<line x1="306.0" y1="1194.0" x2="376.3" y2="1192.5" stroke="#c47c0c" stroke-width="5.5"/>
<line x1="306.0" y1="1194.0" x2="336.1" y2="1203.2" stroke="#c47c0c" stroke-width="5.5" stroke-linecap="butt"/>
<line x1="336.1" y1="1203.2" x2="366.3" y2="1212.5" stroke="#1a42d8" stroke-width="5.5" stroke-linecap="butt"/>
<line x1="298.0" y1="1214.0" x2="302.0" y2="1204.0" stroke="#1a42d8" stroke-width="5.5" stroke-linecap="butt"/>
<line x1="302.0" y1="1204.0" x2="306.0" y2="1194.0" stroke="#c47c0c" stroke-width="5.5" stroke-linecap="butt"/>
<line x1="298.0" y1="1214.0" x2="337.1" y2="1203.2" stroke="#1a42d8" stroke-width="5.5" stroke-linecap="butt"/>
<line x1="337.1" y1="1203.2" x2="376.3" y2="1192.5" stroke="#c47c0c" stroke-width="5.5" stroke-linecap="butt"/>
<line x1="376.3" y1="1192.5" x2="371.3" y2="1202.5" stroke="#c47c0c" stroke-width="5.5" stroke-linecap="butt"/>
<line x1="371.3" y1="1202.5" x2="366.3" y2="1212.5" stroke="#1a42d8" stroke-width="5.5" stroke-linecap="butt"/>
<line x1="376.3" y1="1192.5" x2="406.9" y2="1204.4" stroke="#c47c0c" stroke-width="5.5" stroke-linecap="butt"/>
<line x1="406.9" y1="1204.4" x2="437.5" y2="1216.3" stroke="#1a42d8" stroke-width="5.5" stroke-linecap="butt"/>
<line x1="440.0" y1="1196.3" x2="403.1" y2="1204.4" stroke="#c47c0c" stroke-width="5.5" stroke-linecap="butt"/>
<line x1="403.1" y1="1204.4" x2="366.3" y2="1212.5" stroke="#1a42d8" stroke-width="5.5" stroke-linecap="butt"/>
<line x1="440.0" y1="1196.3" x2="438.8" y2="1206.3" stroke="#c47c0c" stroke-width="5.5" stroke-linecap="butt"/>
<line x1="438.8" y1="1206.3" x2="437.5" y2="1216.3" stroke="#1a42d8" stroke-width="5.5" stroke-linecap="butt"/>
<line x1="440.0" y1="1196.3" x2="476.9" y2="1205.7" stroke="#c47c0c" stroke-width="5.5" stroke-linecap="butt"/>
<line x1="476.9" y1="1205.7" x2="513.8" y2="1215.0" stroke="#1a42d8" stroke-width="5.5" stroke-linecap="butt"/>
<line x1="498.8" y1="1193.8" x2="468.1" y2="1205.0" stroke="#c47c0c" stroke-width="5.5" stroke-linecap="butt"/>
<line x1="468.1" y1="1205.0" x2="437.5" y2="1216.3" stroke="#1a42d8" stroke-width="5.5" stroke-linecap="butt"/>
<line x1="498.8" y1="1193.8" x2="506.3" y2="1204.4" stroke="#c47c0c" stroke-width="5.5" stroke-linecap="butt"/>
<line x1="506.3" y1="1204.4" x2="513.8" y2="1215.0" stroke="#1a42d8" stroke-width="5.5" stroke-linecap="butt"/>
<line x1="498.8" y1="1193.8" x2="533.1" y2="1203.2" stroke="#c47c0c" stroke-width="5.5" stroke-linecap="butt"/>
<line x1="533.1" y1="1203.2" x2="567.5" y2="1212.5" stroke="#1a42d8" stroke-width="5.5" stroke-linecap="butt"/>
<line x1="579.4" y1="1192.0" x2="546.6" y2="1203.5" stroke="#c47c0c" stroke-width="5.5" stroke-linecap="butt"/>
<line x1="546.6" y1="1203.5" x2="513.8" y2="1215.0" stroke="#1a42d8" stroke-width="5.5" stroke-linecap="butt"/>
<line x1="579.4" y1="1192.0" x2="573.5" y2="1202.2" stroke="#c47c0c" stroke-width="5.5" stroke-linecap="butt"/>
<line x1="573.5" y1="1202.2" x2="567.5" y2="1212.5" stroke="#1a42d8" stroke-width="5.5" stroke-linecap="butt"/>
<line x1="579.4" y1="1192.0" x2="609.0" y2="1202.9" stroke="#c47c0c" stroke-width="5.5" stroke-linecap="butt"/>
<line x1="609.0" y1="1202.9" x2="638.5" y2="1213.8" stroke="#1a42d8" stroke-width="5.5" stroke-linecap="butt"/>
<line x1="637.4" y1="1192.5" x2="602.5" y2="1202.5" stroke="#c47c0c" stroke-width="5.5" stroke-linecap="butt"/>
<line x1="602.5" y1="1202.5" x2="567.5" y2="1212.5" stroke="#1a42d8" stroke-width="5.5" stroke-linecap="butt"/>
<line x1="637.4" y1="1192.5" x2="638.0" y2="1203.2" stroke="#c47c0c" stroke-width="5.5" stroke-linecap="butt"/>
<line x1="638.0" y1="1203.2" x2="638.5" y2="1213.8" stroke="#1a42d8" stroke-width="5.5" stroke-linecap="butt"/>
<line x1="637.4" y1="1192.5" x2="673.2" y2="1202.8" stroke="#c47c0c" stroke-width="5.5" stroke-linecap="butt"/>
<line x1="673.2" y1="1202.8" x2="709.0" y2="1213.0" stroke="#1a42d8" stroke-width="5.5" stroke-linecap="butt"/>
<line x1="694.0" y1="1196.0" x2="666.2" y2="1204.9" stroke="#c47c0c" stroke-width="5.5" stroke-linecap="butt"/>
<line x1="666.2" y1="1204.9" x2="638.5" y2="1213.8" stroke="#1a42d8" stroke-width="5.5" stroke-linecap="butt"/>
<line x1="694.0" y1="1196.0" x2="701.5" y2="1204.5" stroke="#c47c0c" stroke-width="5.5" stroke-linecap="butt"/>
<line x1="701.5" y1="1204.5" x2="709.0" y2="1213.0" stroke="#1a42d8" stroke-width="5.5" stroke-linecap="butt"/>
<line x1="694.0" y1="1196.0" x2="731.0" y2="1200.5" stroke="#c47c0c" stroke-width="5.5" stroke-linecap="butt"/>
<line x1="731.0" y1="1200.5" x2="768.0" y2="1205.0" stroke="#1a42d8" stroke-width="5.5" stroke-linecap="butt"/>
<line x1="781.8" y1="1191.5" x2="774.9" y2="1198.2" stroke="#c47c0c" stroke-width="5.5" stroke-linecap="butt"/>
<line x1="774.9" y1="1198.2" x2="768.0" y2="1205.0" stroke="#1a42d8" stroke-width="5.5" stroke-linecap="butt"/>
<line x1="781.8" y1="1191.5" x2="810.2" y2="1201.2" stroke="#c47c0c" stroke-width="5.5" stroke-linecap="butt"/>
<line x1="810.2" y1="1201.2" x2="838.7" y2="1211.0" stroke="#1a42d8" stroke-width="5.5" stroke-linecap="butt"/>
<line x1="694.0" y1="1196.0" x2="781.8" y2="1191.5" stroke="#c47c0c" stroke-width="5.5"/>
<line x1="781.8" y1="1191.5" x2="745.4" y2="1202.2" stroke="#c47c0c" stroke-width="5.5" stroke-linecap="butt"/>
<line x1="745.4" y1="1202.2" x2="709.0" y2="1213.0" stroke="#1a42d8" stroke-width="5.5" stroke-linecap="butt"/>
<line x1="376.3" y1="1192.5" x2="371.3" y2="1235.0" stroke="#c47c0c" stroke-width="5.0" stroke-linecap="butt"/>
<line x1="371.3" y1="1235.0" x2="366.2" y2="1277.5" stroke="#1a42d8" stroke-width="5.0" stroke-linecap="butt"/>
<line x1="440.0" y1="1196.3" x2="437.7" y2="1236.9" stroke="#c47c0c" stroke-width="5.0" stroke-linecap="butt"/>
<line x1="437.7" y1="1236.9" x2="435.4" y2="1277.5" stroke="#1a42d8" stroke-width="5.0" stroke-linecap="butt"/>
<line x1="498.8" y1="1193.8" x2="501.7" y2="1235.7" stroke="#c47c0c" stroke-width="5.0" stroke-linecap="butt"/>
<line x1="501.7" y1="1235.7" x2="504.6" y2="1277.5" stroke="#1a42d8" stroke-width="5.0" stroke-linecap="butt"/>
<line x1="579.4" y1="1192.0" x2="576.5" y2="1234.8" stroke="#c47c0c" stroke-width="5.0" stroke-linecap="butt"/>
<line x1="576.5" y1="1234.8" x2="573.7" y2="1277.5" stroke="#1a42d8" stroke-width="5.0" stroke-linecap="butt"/>
<line x1="637.4" y1="1192.5" x2="640.1" y2="1235.0" stroke="#c47c0c" stroke-width="5.0" stroke-linecap="butt"/>
<line x1="640.1" y1="1235.0" x2="642.9" y2="1277.5" stroke="#1a42d8" stroke-width="5.0" stroke-linecap="butt"/>
<line x1="694.0" y1="1196.0" x2="703.0" y2="1236.8" stroke="#c47c0c" stroke-width="5.0" stroke-linecap="butt"/>
<line x1="703.0" y1="1236.8" x2="712.0" y2="1277.5" stroke="#1a42d8" stroke-width="5.0" stroke-linecap="butt"/>
<line x1="781.8" y1="1191.5" x2="781.5" y2="1234.5" stroke="#c47c0c" stroke-width="5.0" stroke-linecap="butt"/>
<line x1="781.5" y1="1234.5" x2="781.2" y2="1277.5" stroke="#1a42d8" stroke-width="5.0" stroke-linecap="butt"/>
<line x1="917.5" y1="1225.0" x2="919.5" y2="1273.5" stroke="#1a42d8" stroke-width="5.0"/>
<line x1="988.8" y1="1225.0" x2="988.6" y2="1273.5" stroke="#1a42d8" stroke-width="5.0"/>
<circle cx="443.0" cy="1044.0" r="15.1" fill="url(#gb)"/>
<circle cx="569.5" cy="1052.0" r="15.1" fill="url(#gb)"/>
<circle cx="500.2" cy="1081.5" r="15.7" fill="url(#go)"/>
<circle cx="643.5" cy="1071.3" r="15.7" fill="url(#go)"/>
<circle cx="435.0" cy="1156.5" r="15.1" fill="url(#gb)"/>
<circle cx="571.5" cy="1158.8" r="15.1" fill="url(#gb)"/>
<circle cx="707.0" cy="1156.5" r="15.1" fill="url(#gb)"/>
<circle cx="376.3" cy="1192.5" r="15.7" fill="url(#go)"/>
<circle cx="781.8" cy="1191.5" r="15.7" fill="url(#go)"/>
<line x1="436.3" y1="1075.2" x2="436.1" y2="1034.6" stroke="#c47c0c" stroke-width="5.5" stroke-linecap="butt"/>
<line x1="436.1" y1="1034.6" x2="436.0" y2="994.0" stroke="#1a42d8" stroke-width="5.5" stroke-linecap="butt"/>
<line x1="561.2" y1="994.0" x2="568.0" y2="1033.2" stroke="#1a42d8" stroke-width="5.5" stroke-linecap="butt"/>
<line x1="568.0" y1="1033.2" x2="574.8" y2="1072.3" stroke="#c47c0c" stroke-width="5.5" stroke-linecap="butt"/>
<line x1="440.0" y1="1196.3" x2="442.5" y2="1158.2" stroke="#c47c0c" stroke-width="5.5" stroke-linecap="butt"/>
<line x1="442.5" y1="1158.2" x2="445.0" y2="1120.0" stroke="#1a42d8" stroke-width="5.5" stroke-linecap="butt"/>
<line x1="579.4" y1="1192.0" x2="575.3" y2="1149.3" stroke="#c47c0c" stroke-width="5.5" stroke-linecap="butt"/>
<line x1="575.3" y1="1149.3" x2="571.3" y2="1106.7" stroke="#1a42d8" stroke-width="5.5" stroke-linecap="butt"/>
<line x1="694.0" y1="1196.0" x2="700.7" y2="1153.7" stroke="#c47c0c" stroke-width="5.5" stroke-linecap="butt"/>
<line x1="700.7" y1="1153.7" x2="707.4" y2="1111.3" stroke="#1a42d8" stroke-width="5.5" stroke-linecap="butt"/>
<line x1="436.0" y1="994.0" x2="443.0" y2="1044.0" stroke="#1a42d8" stroke-width="5.5"/>
<line x1="571.3" y1="1106.7" x2="571.5" y2="1158.8" stroke="#1a42d8" stroke-width="5.5"/>
<line x1="707.4" y1="1111.3" x2="707.0" y2="1156.5" stroke="#1a42d8" stroke-width="5.5"/>
<line x1="436.3" y1="1075.2" x2="470.5" y2="1090.8" stroke="#c47c0c" stroke-width="5.5" stroke-linecap="butt"/>
<line x1="470.5" y1="1090.8" x2="504.6" y2="1106.5" stroke="#1a42d8" stroke-width="5.5" stroke-linecap="butt"/>
<line x1="574.8" y1="1072.3" x2="539.7" y2="1089.4" stroke="#c47c0c" stroke-width="5.5" stroke-linecap="butt"/>
<line x1="539.7" y1="1089.4" x2="504.6" y2="1106.5" stroke="#1a42d8" stroke-width="5.5" stroke-linecap="butt"/>
<line x1="574.8" y1="1072.3" x2="607.6" y2="1090.4" stroke="#c47c0c" stroke-width="5.5" stroke-linecap="butt"/>
<line x1="607.6" y1="1090.4" x2="640.5" y2="1108.5" stroke="#1a42d8" stroke-width="5.5" stroke-linecap="butt"/>
<line x1="631.6" y1="1048.8" x2="603.2" y2="1060.5" stroke="#1a42d8" stroke-width="5.5" stroke-linecap="butt"/>
<line x1="603.2" y1="1060.5" x2="574.8" y2="1072.3" stroke="#c47c0c" stroke-width="5.5" stroke-linecap="butt"/>
<line x1="707.0" y1="1156.5" x2="768.0" y2="1205.0" stroke="#1a42d8" stroke-width="5.5"/>
<line x1="709.0" y1="1213.0" x2="769.0" y2="1162.5" stroke="#1a42d8" stroke-width="5.5"/>
<line x1="376.3" y1="1192.5" x2="406.9" y2="1204.4" stroke="#c47c0c" stroke-width="5.5" stroke-linecap="butt"/>
<line x1="406.9" y1="1204.4" x2="437.5" y2="1216.3" stroke="#1a42d8" stroke-width="5.5" stroke-linecap="butt"/>
<line x1="440.0" y1="1196.3" x2="403.1" y2="1204.4" stroke="#c47c0c" stroke-width="5.5" stroke-linecap="butt"/>
<line x1="403.1" y1="1204.4" x2="366.3" y2="1212.5" stroke="#1a42d8" stroke-width="5.5" stroke-linecap="butt"/>
<circle cx="378.8" cy="943.0" r="15.1" fill="url(#gb)"/>
<circle cx="424.7" cy="937.0" r="15.1" fill="url(#gb)"/>
<circle cx="493.5" cy="932.5" r="15.1" fill="url(#gb)"/>
<circle cx="359.0" cy="966.0" r="15.7" fill="url(#go)"/>
<circle cx="446.7" cy="959.7" r="15.7" fill="url(#go)"/>
<circle cx="500.5" cy="961.4" r="15.7" fill="url(#go)"/>
<circle cx="376.8" cy="996.7" r="15.1" fill="url(#gb)"/>
<circle cx="436.0" cy="994.0" r="15.1" fill="url(#gb)"/>
<circle cx="508.9" cy="1000.8" r="15.1" fill="url(#gb)"/>
<circle cx="561.2" cy="994.0" r="15.1" fill="url(#gb)"/>
<circle cx="366.8" cy="1049.0" r="15.1" fill="url(#gb)"/>
<circle cx="502.6" cy="1049.2" r="15.1" fill="url(#gb)"/>
<circle cx="631.6" cy="1048.8" r="15.1" fill="url(#gb)"/>
<circle cx="388.0" cy="1078.4" r="15.7" fill="url(#go)"/>
<circle cx="436.3" cy="1075.2" r="15.7" fill="url(#go)"/>
<circle cx="574.8" cy="1072.3" r="15.7" fill="url(#go)"/>
<circle cx="374.7" cy="1106.5" r="15.1" fill="url(#gb)"/>
<circle cx="445.0" cy="1120.0" r="15.1" fill="url(#gb)"/>
<circle cx="504.6" cy="1106.5" r="15.1" fill="url(#gb)"/>
<circle cx="571.3" cy="1106.7" r="15.1" fill="url(#gb)"/>
<circle cx="640.5" cy="1108.5" r="15.1" fill="url(#gb)"/>
<circle cx="707.4" cy="1111.3" r="15.1" fill="url(#gb)"/>
<circle cx="375.0" cy="1162.5" r="15.1" fill="url(#gb)"/>
<circle cx="505.5" cy="1167.0" r="15.1" fill="url(#gb)"/>
<circle cx="638.8" cy="1151.0" r="15.1" fill="url(#gb)"/>
<circle cx="769.0" cy="1162.5" r="15.1" fill="url(#gb)"/>
<circle cx="440.0" cy="1196.3" r="15.7" fill="url(#go)"/>
<circle cx="498.8" cy="1193.8" r="15.7" fill="url(#go)"/>
<circle cx="579.4" cy="1192.0" r="15.7" fill="url(#go)"/>
<circle cx="637.4" cy="1192.5" r="15.7" fill="url(#go)"/>
<circle cx="694.0" cy="1196.0" r="15.7" fill="url(#go)"/>
<circle cx="366.3" cy="1212.5" r="15.1" fill="url(#gb)"/>
<circle cx="437.5" cy="1216.3" r="15.1" fill="url(#gb)"/>
<circle cx="513.8" cy="1215.0" r="15.1" fill="url(#gb)"/>
<circle cx="567.5" cy="1212.5" r="15.1" fill="url(#gb)"/>
<circle cx="638.5" cy="1213.8" r="15.1" fill="url(#gb)"/>
<circle cx="709.0" cy="1213.0" r="15.1" fill="url(#gb)"/>
<circle cx="768.0" cy="1205.0" r="15.1" fill="url(#gb)"/>
<circle cx="838.7" cy="1211.0" r="15.1" fill="url(#gb)"/>
<circle cx="917.5" cy="1225.0" r="15.1" fill="url(#gb)"/>
<circle cx="988.8" cy="1225.0" r="15.1" fill="url(#gb)"/>
<circle cx="366.2" cy="1277.5" r="14.9" fill="url(#gb)"/>
<circle cx="366.2" cy="1312.5" r="14.9" fill="url(#gb)"/>
<circle cx="366.2" cy="1396.0" r="14.9" fill="url(#gb)"/>
<circle cx="366.2" cy="1426.0" r="14.9" fill="url(#gb)"/>
<circle cx="366.2" cy="1511.0" r="15.4" fill="url(#gb)"/>
<circle cx="435.4" cy="1277.5" r="14.9" fill="url(#gb)"/>
<circle cx="435.4" cy="1312.5" r="14.9" fill="url(#gb)"/>
<circle cx="435.4" cy="1396.0" r="14.9" fill="url(#gb)"/>
<circle cx="435.4" cy="1426.0" r="14.9" fill="url(#gb)"/>
<circle cx="435.4" cy="1511.0" r="15.4" fill="url(#gb)"/>
<circle cx="504.6" cy="1277.5" r="14.9" fill="url(#gb)"/>
<circle cx="504.6" cy="1312.5" r="14.9" fill="url(#gb)"/>
<circle cx="504.6" cy="1396.0" r="14.9" fill="url(#gb)"/>
<circle cx="504.6" cy="1426.0" r="14.9" fill="url(#gb)"/>
<circle cx="504.6" cy="1511.0" r="15.4" fill="url(#gb)"/>
<circle cx="573.7" cy="1277.5" r="14.9" fill="url(#gb)"/>
<circle cx="573.7" cy="1312.5" r="14.9" fill="url(#gb)"/>
<circle cx="573.7" cy="1396.0" r="14.9" fill="url(#gb)"/>
<circle cx="573.7" cy="1426.0" r="14.9" fill="url(#gb)"/>
<circle cx="573.7" cy="1511.0" r="15.4" fill="url(#gb)"/>
<circle cx="642.9" cy="1277.5" r="14.9" fill="url(#gb)"/>
<circle cx="642.9" cy="1312.5" r="14.9" fill="url(#gb)"/>
<circle cx="642.9" cy="1396.0" r="14.9" fill="url(#gb)"/>
<circle cx="642.9" cy="1426.0" r="14.9" fill="url(#gb)"/>
<circle cx="642.9" cy="1511.0" r="15.4" fill="url(#gb)"/>
<circle cx="712.0" cy="1277.5" r="14.9" fill="url(#gb)"/>
<circle cx="712.0" cy="1312.5" r="14.9" fill="url(#gb)"/>
<circle cx="712.0" cy="1396.0" r="14.9" fill="url(#gb)"/>
<circle cx="712.0" cy="1426.0" r="14.9" fill="url(#gb)"/>
<circle cx="712.0" cy="1511.0" r="15.4" fill="url(#gb)"/>
<circle cx="781.2" cy="1277.5" r="14.9" fill="url(#gb)"/>
<circle cx="781.2" cy="1312.5" r="14.9" fill="url(#gb)"/>
<circle cx="781.2" cy="1396.0" r="14.9" fill="url(#gb)"/>
<circle cx="781.2" cy="1426.0" r="14.9" fill="url(#gb)"/>
<circle cx="781.2" cy="1511.0" r="15.4" fill="url(#gb)"/>
<circle cx="850.3" cy="1273.5" r="14.9" fill="url(#gb)"/>
<circle cx="850.3" cy="1312.5" r="14.9" fill="url(#gb)"/>
<circle cx="850.3" cy="1396.0" r="14.9" fill="url(#gb)"/>
<circle cx="850.3" cy="1426.0" r="14.9" fill="url(#gb)"/>
<circle cx="850.3" cy="1511.0" r="15.4" fill="url(#gb)"/>
<circle cx="919.5" cy="1273.5" r="14.9" fill="url(#gb)"/>
<circle cx="919.5" cy="1312.5" r="14.9" fill="url(#gb)"/>
<circle cx="919.5" cy="1396.0" r="14.9" fill="url(#gb)"/>
<circle cx="919.5" cy="1426.0" r="14.9" fill="url(#gb)"/>
<circle cx="919.5" cy="1511.0" r="15.4" fill="url(#gb)"/>
<circle cx="988.6" cy="1273.5" r="14.9" fill="url(#gb)"/>
<circle cx="988.6" cy="1312.5" r="14.9" fill="url(#gb)"/>
<circle cx="988.6" cy="1396.0" r="14.9" fill="url(#gb)"/>
<circle cx="988.6" cy="1426.0" r="14.9" fill="url(#gb)"/>
<circle cx="988.6" cy="1511.0" r="15.4" fill="url(#gb)"/>
<circle cx="1057.8" cy="1273.5" r="14.9" fill="url(#gb)"/>
<circle cx="1057.8" cy="1312.5" r="14.9" fill="url(#gb)"/>
<circle cx="1057.8" cy="1396.0" r="14.9" fill="url(#gb)"/>
<circle cx="1057.8" cy="1426.0" r="14.9" fill="url(#gb)"/>
<circle cx="1057.8" cy="1511.0" r="15.4" fill="url(#gb)"/>
</g>
<path d="M1305.5 350.5L1305.5 361.2C1308.5 360.8 1316.9 358.3 1322.5 358.8C1328.1 359.2 1331.4 362.4 1337.5 363.8C1343.6 365.1 1349.6 366.0 1357.5 366.2C1365.4 366.5 1375.1 364.8 1382.5 365.0C1389.9 365.2 1394.8 366.4 1400.0 367.5C1405.2 368.6 1408.1 369.5 1412.5 371.2C1416.9 373.0 1420.2 376.2 1425.0 377.5C1429.8 378.8 1435.6 379.0 1440.0 378.8C1444.4 378.5 1446.5 376.2 1450.0 376.2C1453.5 376.2 1457.2 376.3 1460.0 378.8C1462.8 381.2 1464.1 386.3 1466.2 390.0C1468.4 393.7 1470.3 396.9 1472.5 400.0C1474.7 403.1 1476.1 406.0 1478.8 407.5C1481.4 409.0 1484.2 407.0 1487.5 408.8C1490.8 410.5 1494.4 414.7 1497.5 417.5C1500.6 420.3 1502.4 421.7 1505.0 425.0C1507.6 428.3 1509.9 433.8 1512.5 436.2C1515.1 438.7 1517.4 438.3 1520.0 438.8C1522.6 439.2 1524.4 437.4 1527.5 438.8C1530.6 440.1 1534.0 444.5 1537.5 446.2C1541.0 448.0 1544.0 447.2 1547.5 448.8C1551.0 450.3 1554.4 454.8 1557.5 455.0C1560.6 455.2 1562.2 450.7 1565.0 450.0C1567.8 449.3 1570.9 451.9 1573.8 451.2C1576.6 450.6 1578.6 446.7 1581.2 446.2C1583.9 445.8 1586.1 445.5 1588.8 448.8C1591.4 452.0 1593.6 460.2 1596.2 465.0C1598.9 469.8 1601.3 468.4 1603.8 476.2C1606.2 484.1 1608.1 500.6 1610.0 510.0C1611.9 519.4 1613.0 525.8 1614.5 530.0C1616.0 534.2 1617.1 534.2 1618.8 533.8C1620.4 533.3 1621.8 530.3 1623.8 527.5C1625.7 524.7 1627.2 519.7 1630.0 517.5C1632.8 515.3 1636.5 516.8 1640.0 515.0C1643.5 513.2 1646.5 511.4 1650.0 507.5C1653.5 503.6 1656.5 497.5 1660.0 492.5C1663.5 487.5 1666.9 485.3 1670.0 478.8C1673.1 472.2 1674.4 461.1 1677.5 455.0C1680.6 448.9 1684.7 448.1 1687.5 443.8C1690.3 439.4 1692.0 434.2 1693.8 430.0C1695.5 425.8 1696.4 419.1 1697.5 420.0C1698.6 420.9 1698.8 423.6 1700.0 435.0C1701.2 446.4 1702.8 473.6 1704.5 485.0C1706.2 496.4 1707.8 497.8 1709.5 500.0C1711.2 502.2 1712.3 508.0 1714.5 497.5C1716.7 487.0 1718.9 448.3 1722.0 440.0C1725.1 431.7 1729.4 448.2 1732.0 450.0C1734.6 451.8 1735.5 446.9 1737.0 450.0C1738.5 453.1 1738.8 464.2 1740.8 467.5C1742.7 470.8 1745.6 476.6 1748.2 468.8C1750.9 460.9 1752.9 430.8 1755.8 422.5C1758.6 414.2 1761.4 424.1 1764.5 421.2C1767.6 418.4 1770.4 408.2 1773.2 406.2C1776.1 404.3 1777.7 411.1 1780.8 410.0C1783.8 408.9 1786.4 401.3 1790.8 400.0C1795.1 398.7 1802.2 400.5 1805.8 402.5C1809.2 404.5 1808.6 408.4 1810.8 411.2C1812.9 414.1 1815.8 418.5 1818.2 418.8C1820.7 419.0 1821.9 417.1 1824.5 412.5C1827.1 407.9 1830.2 396.2 1833.2 392.5C1836.3 388.8 1838.3 393.4 1842.0 391.2C1845.7 389.1 1849.2 382.0 1854.5 380.0C1859.8 378.0 1867.8 380.4 1872.0 380.0C1876.2 379.6 1875.2 380.3 1878.2 377.5C1881.3 374.7 1885.1 368.3 1889.5 363.8C1893.9 359.2 1900.8 353.4 1903.2 351.2L1903.2 350.5 Z" fill="#00d000"/>
<path d="M1305.5 350.8L1305.5 340.0C1308.0 340.4 1314.4 342.9 1320.0 342.5C1325.6 342.1 1330.9 338.8 1337.5 337.5C1344.1 336.2 1351.4 335.7 1357.5 335.0C1363.6 334.3 1368.1 333.5 1372.5 333.8C1376.9 334.0 1377.7 336.7 1382.5 336.2C1387.3 335.8 1394.8 332.8 1400.0 331.2C1405.2 329.7 1408.1 329.5 1412.5 327.5C1416.9 325.5 1420.2 321.3 1425.0 320.0C1429.8 318.7 1434.3 320.2 1440.0 320.0C1445.7 319.8 1453.6 321.4 1457.5 318.8C1461.4 316.1 1459.9 311.8 1462.5 305.0C1465.1 298.2 1469.7 285.2 1472.5 280.0C1475.3 274.8 1476.3 275.9 1478.8 275.0C1481.2 274.1 1483.6 278.1 1486.2 275.0C1488.9 271.9 1491.1 261.9 1493.8 257.5C1496.4 253.1 1498.6 253.9 1501.2 250.0C1503.9 246.1 1506.3 237.8 1508.8 235.0C1511.2 232.2 1513.0 232.9 1515.0 233.8C1517.0 234.6 1518.0 238.9 1520.0 240.0C1522.0 241.1 1523.4 242.2 1526.2 240.0C1529.1 237.8 1533.2 230.6 1536.2 227.5C1539.3 224.4 1540.9 223.6 1543.8 222.5C1546.6 221.4 1550.1 220.8 1552.5 221.2C1554.9 221.7 1555.8 223.2 1557.5 225.0C1559.2 226.8 1560.1 230.6 1562.5 231.2C1564.9 231.9 1568.2 227.7 1571.2 228.8C1574.3 229.8 1577.8 236.8 1580.0 237.5C1582.2 238.2 1582.0 239.1 1583.8 232.5C1585.5 225.9 1587.8 209.4 1590.0 200.0C1592.2 190.6 1594.1 184.4 1596.2 178.8C1598.4 173.1 1600.3 175.6 1602.5 167.5C1604.7 159.4 1606.8 139.6 1608.8 132.5C1610.7 125.4 1612.0 127.2 1613.8 127.0C1615.5 126.8 1616.6 122.8 1618.8 131.2C1620.9 139.7 1623.6 167.1 1626.2 175.0C1628.9 182.9 1631.3 175.2 1633.8 176.2C1636.2 177.3 1637.8 177.1 1640.0 181.2C1642.2 185.4 1644.1 193.0 1646.2 200.0C1648.4 207.0 1650.1 217.5 1652.5 221.2C1654.9 225.0 1657.8 220.6 1660.0 221.2C1662.2 221.9 1662.8 217.8 1665.0 225.0C1667.2 232.2 1670.1 255.1 1672.5 262.5C1674.9 269.9 1676.3 264.7 1678.8 267.5C1681.2 270.3 1684.3 278.3 1686.2 278.8C1688.2 279.2 1688.2 272.6 1690.0 270.0C1691.8 267.4 1694.5 264.3 1696.2 263.8C1698.0 263.2 1698.6 265.0 1700.0 267.0C1701.4 269.0 1702.8 269.7 1704.5 275.0C1706.2 280.3 1708.0 290.5 1709.5 297.5C1711.0 304.5 1711.3 321.1 1713.2 315.0C1715.2 308.9 1718.1 273.0 1720.8 262.5C1723.4 252.0 1725.6 255.4 1728.2 255.0C1730.9 254.6 1733.3 258.2 1735.8 260.0C1738.2 261.8 1739.8 258.0 1742.0 265.0C1744.2 272.0 1745.4 294.8 1748.2 300.0C1751.1 305.2 1755.6 295.0 1758.2 295.0C1760.9 295.0 1761.3 297.2 1763.2 300.0C1765.2 302.8 1767.1 310.4 1769.5 311.2C1771.9 312.1 1774.2 304.8 1777.0 305.0C1779.8 305.2 1782.7 312.1 1785.8 312.5C1788.8 312.9 1791.4 308.6 1794.5 307.5C1797.6 306.4 1800.4 308.2 1803.2 306.2C1806.1 304.3 1808.6 298.4 1810.8 296.2C1812.9 294.1 1813.8 293.1 1815.8 293.8C1817.7 294.4 1819.4 295.8 1822.0 300.0C1824.6 304.2 1827.2 314.4 1830.8 317.5C1834.2 320.6 1837.8 316.4 1842.0 317.5C1846.2 318.6 1850.6 322.7 1854.5 323.8C1858.4 324.8 1861.2 324.0 1864.5 323.8C1867.8 323.5 1870.6 321.8 1873.2 322.5C1875.9 323.2 1876.7 324.7 1879.5 327.5C1882.3 330.3 1885.3 334.9 1889.5 338.8C1893.7 342.6 1900.8 347.6 1903.2 349.5L1903.2 350.8 Z" fill="#2a2aff"/>
<rect x="1900.2" y="347.9" width="62.8" height="6" fill="#00d000"/>
<line x1="1699.5" y1="57.5" x2="1699.5" y2="626.0" stroke="#ff141a" stroke-opacity="0.93" stroke-width="3.5" stroke-dasharray="16 11.57"/>
<line x1="1699.5" y1="267.0" x2="1699.5" y2="435.0" stroke="#b40a12" stroke-width="3.5" stroke-dasharray="16 11.57" stroke-dashoffset="16.51"/>
<rect x="1301.2" y="46.3" width="666.2" height="5" fill="#6a6a6a"/>
<rect x="1301.2" y="46.3" width="3.4" height="606.6" fill="#202020"/>
<rect x="1304.5" y="51.3" width="2.3" height="598.7" fill="#787878"/>
<rect x="1962.4" y="46.3" width="3.4" height="606.6" fill="#262626"/>
<rect x="1965.8" y="46.3" width="1.6" height="606.6" fill="#8a8a8a"/>
<rect x="1304.5" y="648.0" width="657.9" height="2.2" fill="#c6c6c6"/>
<rect x="1301.2" y="650.2" width="666.2" height="3" fill="#080808"/>
<rect x="1301.2" y="652.9" width="666.2" height="1.8" fill="#7a7a7a"/>
<line x1="1435.1" y1="652.0" x2="1435.1" y2="635.5" stroke="#050505" stroke-width="3"/>
<line x1="1567.3" y1="652.0" x2="1567.3" y2="635.5" stroke="#050505" stroke-width="3"/>
<line x1="1699.5" y1="652.0" x2="1699.5" y2="635.5" stroke="#050505" stroke-width="3"/>
<line x1="1831.7" y1="652.0" x2="1831.7" y2="635.5" stroke="#050505" stroke-width="3"/>
<line x1="1303.6" y1="199.7" x2="1318.6" y2="199.7" stroke="#050505" stroke-width="3"/>
<line x1="1303.6" y1="350.5" x2="1318.6" y2="350.5" stroke="#050505" stroke-width="3"/>
<line x1="1303.6" y1="501.4" x2="1318.6" y2="501.4" stroke="#050505" stroke-width="3"/>
<text x="1299.9" y="689.5" class="tk" text-anchor="middle">-6</text>
<text x="1432.1" y="689.5" class="tk" text-anchor="middle">-4</text>
<text x="1564.3" y="689.5" class="tk" text-anchor="middle">-2</text>
<text x="1700.0" y="689.5" class="tk" text-anchor="middle">0</text>
<text x="1832.2" y="689.5" class="tk" text-anchor="middle">2</text>
<text x="1964.4" y="689.5" class="tk" text-anchor="middle">4</text>
<text x="1285.1" y="59.6" class="tk" text-anchor="end">2</text>
<text x="1285.1" y="210.5" class="tk" text-anchor="end">1</text>
<text x="1285.1" y="361.3" class="tk" text-anchor="end">0</text>
<text x="1285.1" y="512.1" class="tk" text-anchor="end">-1</text>
<text x="1285.1" y="663.0" class="tk" text-anchor="end">-2</text>
<text transform="translate(1241 351.4) rotate(-90)" class="lb k" font-size="52" text-anchor="middle" textLength="222" lengthAdjust="spacingAndGlyphs">DOS [a.u.]</text>
<text class="lb k" font-size="50"><tspan x="1553" y="747.5" textLength="69.5" lengthAdjust="spacingAndGlyphs">E-E</tspan><tspan x="1622" y="752.5" font-size="33" stroke-width="0.1" textLength="10.5" lengthAdjust="spacingAndGlyphs">f</tspan><tspan> </tspan><tspan x="1643.6" y="747.5" textLength="90.5" lengthAdjust="spacingAndGlyphs">[eV]</tspan></text>
<text x="1860.5" y="119.6" class="lb k" font-size="56" textLength="61.0" lengthAdjust="spacingAndGlyphs">E1</text>
<text class="lb k" font-size="49"><tspan x="1333" y="609.0" textLength="170" lengthAdjust="spacingAndGlyphs">m=0.5μ</tspan><tspan x="1503.5" y="620.0" font-size="30" textLength="17" lengthAdjust="spacingAndGlyphs">B</tspan></text>
<path d="M1305.5 1147.0L1305.5 1153.8C1307.2 1154.0 1310.9 1154.3 1315.0 1155.0C1319.1 1155.7 1324.8 1156.2 1328.8 1157.5C1332.7 1158.8 1334.7 1161.8 1337.5 1162.5C1340.3 1163.2 1340.8 1161.2 1345.0 1161.2C1349.2 1161.2 1356.0 1162.5 1361.2 1162.5C1366.5 1162.5 1370.6 1161.5 1375.0 1161.2C1379.4 1161.0 1382.5 1161.0 1386.2 1161.2C1390.0 1161.5 1392.5 1162.7 1396.2 1162.5C1400.0 1162.3 1404.2 1159.6 1407.5 1160.0C1410.8 1160.4 1411.5 1163.7 1415.0 1165.0C1418.5 1166.3 1422.7 1166.8 1427.5 1167.5C1432.3 1168.2 1438.3 1167.9 1442.5 1168.8C1446.7 1169.6 1448.2 1171.0 1451.2 1172.5C1454.3 1174.0 1456.7 1176.2 1460.0 1177.5C1463.3 1178.8 1466.9 1178.0 1470.0 1180.0C1473.1 1182.0 1474.4 1186.3 1477.5 1188.8C1480.6 1191.2 1484.0 1193.1 1487.5 1193.8C1491.0 1194.4 1494.0 1192.7 1497.5 1192.5C1501.0 1192.3 1504.2 1193.2 1507.5 1192.5C1510.8 1191.8 1513.2 1187.9 1516.2 1188.8C1519.3 1189.6 1521.9 1194.2 1525.0 1197.5C1528.1 1200.8 1530.7 1203.8 1533.8 1207.5C1536.8 1211.2 1538.8 1214.8 1542.5 1218.8C1546.2 1222.7 1551.3 1228.0 1555.0 1230.0C1558.7 1232.0 1560.5 1228.2 1563.8 1230.0C1567.0 1231.8 1570.0 1237.2 1573.8 1240.0C1577.5 1242.8 1581.1 1244.5 1585.0 1246.2C1588.9 1248.0 1593.0 1247.6 1596.2 1250.0C1599.5 1252.4 1601.3 1257.6 1603.8 1260.0C1606.2 1262.4 1606.3 1263.3 1610.0 1263.8C1613.7 1264.2 1620.0 1264.0 1625.0 1262.5C1630.0 1261.0 1634.2 1255.7 1638.8 1255.0C1643.3 1254.3 1648.0 1252.2 1651.2 1258.8C1654.5 1265.3 1655.3 1279.6 1657.5 1292.5C1659.7 1305.4 1662.0 1322.9 1663.8 1332.5C1665.5 1342.1 1665.8 1344.9 1667.5 1347.5C1669.2 1350.1 1671.8 1350.6 1673.8 1347.5C1675.7 1344.4 1676.6 1339.2 1678.8 1330.0C1680.9 1320.8 1683.6 1305.9 1686.2 1295.0C1688.9 1284.1 1691.3 1274.9 1693.8 1267.5C1696.2 1260.1 1698.3 1253.8 1700.0 1252.5C1701.7 1251.2 1701.6 1250.8 1703.2 1260.0C1704.9 1269.2 1707.3 1296.7 1709.5 1305.0C1711.7 1313.3 1713.7 1307.9 1715.8 1307.5C1717.8 1307.1 1719.5 1294.2 1721.5 1302.5C1723.5 1310.8 1725.2 1340.6 1727.0 1355.0C1728.8 1369.4 1729.8 1379.8 1731.5 1385.0C1733.2 1390.2 1734.9 1391.1 1737.0 1385.0C1739.1 1378.9 1741.1 1364.0 1743.2 1350.0C1745.4 1336.0 1747.1 1318.6 1749.5 1305.0C1751.9 1291.4 1754.8 1285.6 1757.0 1272.5C1759.2 1259.4 1760.0 1242.5 1762.0 1230.0C1764.0 1217.5 1765.6 1205.6 1768.2 1201.2C1770.9 1196.9 1773.7 1205.2 1777.0 1205.0C1780.3 1204.8 1783.9 1200.9 1787.0 1200.0C1790.1 1199.1 1791.9 1201.8 1794.5 1200.0C1797.1 1198.2 1799.6 1193.9 1802.0 1190.0C1804.4 1186.1 1805.8 1177.9 1808.2 1177.5C1810.7 1177.1 1812.9 1184.4 1815.8 1187.5C1818.6 1190.6 1821.0 1195.7 1824.5 1195.0C1828.0 1194.3 1831.4 1185.1 1835.8 1183.8C1840.1 1182.4 1845.6 1188.2 1849.5 1187.5C1853.4 1186.8 1855.2 1182.2 1858.2 1180.0C1861.3 1177.8 1863.7 1178.1 1867.0 1175.0C1870.3 1171.9 1873.1 1167.1 1877.0 1162.5C1880.9 1157.9 1887.3 1151.0 1889.5 1148.5L1889.5 1147.0 Z" fill="#00d000"/>
<path d="M1305.5 1147.3L1305.5 1138.8C1307.2 1138.5 1310.9 1138.2 1315.0 1137.5C1319.1 1136.8 1324.8 1136.5 1328.8 1135.0C1332.7 1133.5 1334.7 1129.8 1337.5 1128.8C1340.3 1127.7 1342.6 1128.3 1345.0 1128.8C1347.4 1129.2 1348.4 1131.5 1351.2 1131.2C1354.1 1131.0 1357.1 1128.1 1361.2 1127.5C1365.4 1126.9 1370.6 1127.8 1375.0 1128.0C1379.4 1128.2 1382.5 1129.1 1386.2 1128.8C1390.0 1128.4 1392.8 1126.0 1396.2 1126.2C1399.8 1126.5 1403.0 1130.7 1406.2 1130.0C1409.5 1129.3 1411.3 1124.7 1415.0 1122.5C1418.7 1120.3 1422.9 1119.0 1427.5 1117.5C1432.1 1116.0 1437.3 1115.9 1441.2 1113.8C1445.2 1111.6 1446.9 1107.8 1450.0 1105.0C1453.1 1102.2 1455.9 1099.9 1458.8 1097.5C1461.6 1095.1 1463.4 1095.6 1466.2 1091.2C1469.1 1086.9 1471.5 1078.2 1475.0 1072.5C1478.5 1066.8 1483.0 1060.3 1486.2 1058.8C1489.5 1057.2 1491.6 1062.7 1493.8 1063.8C1495.9 1064.8 1496.1 1067.2 1498.8 1065.0C1501.4 1062.8 1506.1 1057.4 1508.8 1051.2C1511.4 1045.1 1511.8 1040.3 1513.8 1030.0C1515.7 1019.7 1517.4 1000.2 1520.0 992.5C1522.6 984.8 1525.9 986.0 1528.8 986.2C1531.6 986.5 1533.8 989.8 1536.2 993.8C1538.7 997.7 1540.8 1006.8 1542.5 1008.8C1544.2 1010.7 1544.3 1011.8 1546.2 1005.0C1548.2 998.2 1551.3 977.7 1553.8 970.0C1556.2 962.3 1557.8 961.9 1560.0 961.2C1562.2 960.6 1563.4 963.4 1566.2 966.2C1569.1 969.1 1573.0 979.9 1576.2 977.5C1579.5 975.1 1582.2 958.0 1585.0 952.5C1587.8 947.0 1590.3 946.2 1592.5 946.2C1594.7 946.2 1595.1 945.9 1597.5 952.5C1599.9 959.1 1603.4 986.8 1606.2 983.8C1609.1 980.7 1611.6 944.2 1613.8 935.0C1615.9 925.8 1617.0 931.0 1618.8 931.2C1620.5 931.5 1621.8 930.3 1623.8 936.2C1625.7 942.2 1628.0 958.2 1630.0 965.0C1632.0 971.8 1633.0 970.6 1635.0 975.0C1637.0 979.4 1639.1 985.6 1641.2 990.0C1643.4 994.4 1645.1 992.1 1647.5 1000.0C1649.9 1007.9 1653.0 1026.7 1655.0 1035.0C1657.0 1043.3 1657.2 1044.2 1658.8 1047.5C1660.3 1050.8 1661.8 1049.8 1663.8 1053.8C1665.7 1057.7 1667.4 1068.7 1670.0 1070.0C1672.6 1071.3 1675.9 1061.9 1678.8 1061.2C1681.6 1060.6 1683.6 1062.1 1686.2 1066.2C1688.9 1070.4 1691.3 1078.9 1693.8 1085.0C1696.2 1091.1 1698.1 1098.8 1700.0 1101.2C1701.9 1103.7 1701.7 1104.4 1704.5 1098.8C1707.3 1093.1 1712.7 1075.5 1715.8 1068.8C1718.8 1062.0 1719.8 1060.4 1722.0 1060.0C1724.2 1059.6 1725.4 1058.4 1728.2 1066.2C1731.1 1074.1 1735.0 1096.7 1738.2 1105.0C1741.5 1113.3 1743.9 1110.9 1747.0 1113.8C1750.1 1116.6 1752.9 1119.9 1755.8 1121.2C1758.6 1122.6 1760.6 1122.3 1763.2 1121.2C1765.9 1120.2 1767.9 1115.4 1770.8 1115.0C1773.6 1114.6 1776.4 1118.7 1779.5 1118.8C1782.6 1118.8 1785.4 1115.3 1788.2 1115.5C1791.1 1115.7 1792.7 1118.3 1795.8 1120.0C1798.8 1121.7 1802.7 1125.7 1805.8 1125.0C1808.8 1124.3 1810.8 1118.4 1813.2 1116.2C1815.7 1114.1 1816.9 1112.3 1819.5 1112.5C1822.1 1112.7 1825.2 1116.7 1828.2 1117.5C1831.3 1118.3 1834.2 1117.3 1837.0 1117.0C1839.8 1116.7 1841.4 1114.5 1844.5 1115.5C1847.6 1116.5 1850.6 1120.4 1854.5 1122.5C1858.4 1124.6 1863.1 1125.1 1867.0 1127.5C1870.9 1129.9 1873.1 1133.1 1877.0 1136.2C1880.9 1139.4 1887.3 1143.9 1889.5 1145.5L1889.5 1147.3 Z" fill="#2a2aff"/>
<rect x="1886.5" y="1144.4" width="64.5" height="6" fill="#00d000"/>
<line x1="1699.5" y1="854.0" x2="1699.5" y2="1422.0" stroke="#ff141a" stroke-opacity="0.93" stroke-width="3.5" stroke-dasharray="16 11.57"/>
<line x1="1699.5" y1="1101.2" x2="1699.5" y2="1252.5" stroke="#b40a12" stroke-width="3.5" stroke-dasharray="16 11.57" stroke-dashoffset="26.69"/>
<rect x="1301.2" y="842.8" width="666.2" height="5" fill="#6a6a6a"/>
<rect x="1301.2" y="842.8" width="3.4" height="606.7" fill="#202020"/>
<rect x="1304.5" y="847.8" width="2.3" height="598.8" fill="#787878"/>
<rect x="1962.4" y="842.8" width="3.4" height="606.7" fill="#262626"/>
<rect x="1965.8" y="842.8" width="1.6" height="606.7" fill="#8a8a8a"/>
<rect x="1304.5" y="1444.6" width="657.9" height="2.2" fill="#c6c6c6"/>
<rect x="1301.2" y="1446.8" width="666.2" height="3" fill="#080808"/>
<rect x="1301.2" y="1449.5" width="666.2" height="1.8" fill="#7a7a7a"/>
<line x1="1435.1" y1="1448.6" x2="1435.1" y2="1432.1" stroke="#050505" stroke-width="3"/>
<line x1="1567.3" y1="1448.6" x2="1567.3" y2="1432.1" stroke="#050505" stroke-width="3"/>
<line x1="1699.5" y1="1448.6" x2="1699.5" y2="1432.1" stroke="#050505" stroke-width="3"/>
<line x1="1831.7" y1="1448.6" x2="1831.7" y2="1432.1" stroke="#050505" stroke-width="3"/>
<line x1="1303.6" y1="996.1" x2="1318.6" y2="996.1" stroke="#050505" stroke-width="3"/>
<line x1="1303.6" y1="1147.0" x2="1318.6" y2="1147.0" stroke="#050505" stroke-width="3"/>
<line x1="1303.6" y1="1297.8" x2="1318.6" y2="1297.8" stroke="#050505" stroke-width="3"/>
<text x="1299.9" y="1486.1" class="tk" text-anchor="middle">-6</text>
<text x="1432.1" y="1486.1" class="tk" text-anchor="middle">-4</text>
<text x="1564.3" y="1486.1" class="tk" text-anchor="middle">-2</text>
<text x="1700.0" y="1486.1" class="tk" text-anchor="middle">0</text>
<text x="1832.2" y="1486.1" class="tk" text-anchor="middle">2</text>
<text x="1964.4" y="1486.1" class="tk" text-anchor="middle">4</text>
<text x="1285.1" y="856.1" class="tk" text-anchor="end">2</text>
<text x="1285.1" y="1006.9" class="tk" text-anchor="end">1</text>
<text x="1285.1" y="1157.8" class="tk" text-anchor="end">0</text>
<text x="1285.1" y="1308.6" class="tk" text-anchor="end">-1</text>
<text x="1285.1" y="1459.5" class="tk" text-anchor="end">-2</text>
<text transform="translate(1241 1147.9) rotate(-90)" class="lb k" font-size="52" text-anchor="middle" textLength="222" lengthAdjust="spacingAndGlyphs">DOS [a.u.]</text>
<text class="lb k" font-size="50"><tspan x="1553" y="1544.1" textLength="69.5" lengthAdjust="spacingAndGlyphs">E-E</tspan><tspan x="1622" y="1549.1" font-size="33" stroke-width="0.1" textLength="10.5" lengthAdjust="spacingAndGlyphs">f</tspan><tspan> </tspan><tspan x="1643.6" y="1544.1" textLength="90.5" lengthAdjust="spacingAndGlyphs">[eV]</tspan></text>
<text x="1860.5" y="916.1" class="lb k" font-size="56" textLength="75.0" lengthAdjust="spacingAndGlyphs">E1′</text>
<text class="lb k" font-size="49"><tspan x="1333" y="1405.0" textLength="170" lengthAdjust="spacingAndGlyphs">m=1.2μ</tspan><tspan x="1503.5" y="1416.0" font-size="30" textLength="17" lengthAdjust="spacingAndGlyphs">B</tspan></text>
<text x="30.5" y="70.5" class="lb k" font-size="57" textLength="68" lengthAdjust="spacingAndGlyphs">(a)</text>
<text x="1103.5" y="72.6" class="lb k" font-size="57" textLength="68" lengthAdjust="spacingAndGlyphs">(b)</text>
<text x="30.5" y="866.5" class="lb k" font-size="57" textLength="68" lengthAdjust="spacingAndGlyphs">(c)</text>
<text x="1103.5" y="866.5" class="lb k" font-size="57" textLength="68" lengthAdjust="spacingAndGlyphs">(d)</text>
<line x1="86.8" y1="316.0" x2="86.8" y2="236.0" stroke="#9ccbea" stroke-width="2.0"/><line x1="86.8" y1="315.5" x2="168.0" y2="315.5" stroke="#b4d8f0" stroke-width="3.4"/><polygon points="86.8,217.5 77.5,237.0 96.1,237.0" fill="#2f9bd6"/><polygon points="185.5,315.5 166.5,305.5 166.5,325.5" fill="#2f9bd6"/><text x="78" y="208.5" class="sf" font-size="46" stroke="#1c8ccc" fill="#1c8ccc" textLength="99" lengthAdjust="spacingAndGlyphs">[111]</text><text x="196.5" y="323.0" class="sf" font-size="46" stroke="#1c8ccc" fill="#1c8ccc" textLength="108" lengthAdjust="spacingAndGlyphs">[110]</text><text x="250" y="320.0" class="sf" font-size="46" stroke="#1c8ccc" fill="#1c8ccc" text-anchor="middle" textLength="21" lengthAdjust="spacingAndGlyphs">¯</text><text x="49" y="366.5" class="sf" font-size="46" stroke="#1c8ccc" fill="#1c8ccc" textLength="108" lengthAdjust="spacingAndGlyphs">[112]</text><text x="130.5" y="361.5" class="sf" font-size="46" stroke="#1c8ccc" fill="#1c8ccc" text-anchor="middle" textLength="21" lengthAdjust="spacingAndGlyphs">¯</text>
<line x1="86.8" y1="1113.5" x2="86.8" y2="1033.5" stroke="#9ccbea" stroke-width="2.0"/><line x1="86.8" y1="1113.0" x2="168.0" y2="1113.0" stroke="#b4d8f0" stroke-width="3.4"/><polygon points="86.8,1015.0 77.5,1034.5 96.1,1034.5" fill="#2f9bd6"/><polygon points="185.5,1113.0 166.5,1103.0 166.5,1123.0" fill="#2f9bd6"/><text x="78" y="1006.0" class="sf" font-size="46" stroke="#1c8ccc" fill="#1c8ccc" textLength="99" lengthAdjust="spacingAndGlyphs">[111]</text><text x="196.5" y="1120.5" class="sf" font-size="46" stroke="#1c8ccc" fill="#1c8ccc" textLength="108" lengthAdjust="spacingAndGlyphs">[110]</text><text x="250" y="1117.5" class="sf" font-size="46" stroke="#1c8ccc" fill="#1c8ccc" text-anchor="middle" textLength="21" lengthAdjust="spacingAndGlyphs">¯</text><text x="49" y="1164.0" class="sf" font-size="46" stroke="#1c8ccc" fill="#1c8ccc" textLength="108" lengthAdjust="spacingAndGlyphs">[112]</text><text x="130.5" y="1159.0" class="sf" font-size="46" stroke="#1c8ccc" fill="#1c8ccc" text-anchor="middle" textLength="21" lengthAdjust="spacingAndGlyphs">¯</text>
<text x="415" y="93.8" class="lb" font-size="51" stroke="#04b566" stroke-width="0.6" fill="#04b566" textLength="121" lengthAdjust="spacingAndGlyphs">(111)</text>
<line x1="379.5" y1="113.8" x2="578.0" y2="113.8" stroke="#00b050" stroke-width="8.0" stroke-linecap="butt"/>
<text x="339" y="876" class="lb" font-size="51" stroke="#04b566" stroke-width="0.6" fill="#04b566" textLength="121" lengthAdjust="spacingAndGlyphs">(111)</text>
<line x1="336.0" y1="896.2" x2="461.0" y2="896.2" stroke="#00b050" stroke-width="8.0" stroke-linecap="butt"/>
<line x1="964.5" y1="173.5" x2="1064.5" y2="311.0" stroke="#00b050" stroke-width="7.5"/>
<g transform="translate(1049.5 221) rotate(54)"><text x="0" y="16" class="sf" font-style="italic" font-size="52" fill="#04b566" stroke="#04b566" style="stroke-width:0.35px" text-anchor="middle" textLength="122" lengthAdjust="spacingAndGlyphs">(131)</text><text x="-33" y="7" class="sf" font-size="52" fill="#04b566" stroke="#04b566" style="stroke-width:0.35px" text-anchor="middle" textLength="22" lengthAdjust="spacingAndGlyphs">¯</text></g>
<line x1="852.5" y1="960.0" x2="1011.0" y2="1096.5" stroke="#00b050" stroke-width="7.5"/>
<g transform="translate(970 1000) rotate(41)"><text x="0" y="15" class="sf" font-style="italic" font-size="52" fill="#04b566" stroke="#04b566" style="stroke-width:0.35px" text-anchor="middle" textLength="116" lengthAdjust="spacingAndGlyphs">(021)</text></g>
<text class="lb k" font-size="41"><tspan x="628.5" y="88.8" textLength="137.5" lengthAdjust="spacingAndGlyphs">S (0.1μ</tspan><tspan x="767.0" y="98.8" font-size="24" textLength="14" lengthAdjust="spacingAndGlyphs">B</tspan><tspan x="783.0" y="88.8" textLength="11" lengthAdjust="spacingAndGlyphs">)</tspan></text>
<text class="lb k" font-size="41"><tspan x="726.0" y="159.0" textLength="162.5" lengthAdjust="spacingAndGlyphs">E1 (0.5μ</tspan><tspan x="889.5" y="169.0" font-size="24" textLength="14" lengthAdjust="spacingAndGlyphs">B</tspan><tspan x="905.5" y="159.0" textLength="11" lengthAdjust="spacingAndGlyphs">)</tspan></text>
<text class="lb k" font-size="41"><tspan x="780.5" y="260.0" textLength="135.5" lengthAdjust="spacingAndGlyphs">F (0.0μ</tspan><tspan x="917.0" y="270.0" font-size="24" textLength="14" lengthAdjust="spacingAndGlyphs">B</tspan><tspan x="933.0" y="260.0" textLength="11" lengthAdjust="spacingAndGlyphs">)</tspan></text>
<text class="lb k" font-size="41"><tspan x="861.0" y="377.5" textLength="165.0" lengthAdjust="spacingAndGlyphs">E3 (0.0μ</tspan><tspan x="1027.0" y="387.5" font-size="24" textLength="14" lengthAdjust="spacingAndGlyphs">B</tspan><tspan x="1043.0" y="377.5" textLength="11" lengthAdjust="spacingAndGlyphs">)</tspan></text>
<line x1="637.5" y1="106.0" x2="605.4" y2="135.7" stroke="#555" stroke-width="1.8"/><polygon points="590.0,150.0 600.3,130.2 610.5,141.2" fill="#000"/>
<line x1="721.0" y1="150.0" x2="667.2" y2="170.1" stroke="#555" stroke-width="1.8"/><polygon points="647.5,177.5 664.5,163.1 669.8,177.2" fill="#000"/>
<line x1="770.0" y1="246.0" x2="728.4" y2="274.2" stroke="#555" stroke-width="1.8"/><polygon points="711.0,286.0 724.2,268.0 732.6,280.4" fill="#000"/>
<line x1="850.4" y1="360.0" x2="812.2" y2="375.0" stroke="#555" stroke-width="1.8"/><polygon points="792.7,382.7 809.5,368.0 815.0,382.0" fill="#000"/>
<text class="lb k" font-size="41"><tspan x="512.5" y="884.0" textLength="151.0" lengthAdjust="spacingAndGlyphs">S′ (0.4μ</tspan><tspan x="664.5" y="894.0" font-size="24" textLength="14" lengthAdjust="spacingAndGlyphs">B</tspan><tspan x="680.5" y="884.0" textLength="11" lengthAdjust="spacingAndGlyphs">)</tspan></text>
<text class="lb k" font-size="41"><tspan x="612.5" y="947.5" textLength="176.0" lengthAdjust="spacingAndGlyphs">E1′ (1.2μ</tspan><tspan x="789.5" y="957.5" font-size="24" textLength="14" lengthAdjust="spacingAndGlyphs">B</tspan><tspan x="805.5" y="947.5" textLength="11" lengthAdjust="spacingAndGlyphs">)</tspan></text>
<text class="lb k" font-size="41"><tspan x="735.0" y="1057.5" textLength="148.5" lengthAdjust="spacingAndGlyphs">F′ (0.4μ</tspan><tspan x="884.5" y="1067.5" font-size="24" textLength="14" lengthAdjust="spacingAndGlyphs">B</tspan><tspan x="900.5" y="1057.5" textLength="11" lengthAdjust="spacingAndGlyphs">)</tspan></text>
<text class="lb k" font-size="41"><tspan x="862.5" y="1172.5" textLength="176.0" lengthAdjust="spacingAndGlyphs">E3′ (0.0μ</tspan><tspan x="1039.5" y="1182.5" font-size="24" textLength="14" lengthAdjust="spacingAndGlyphs">B</tspan><tspan x="1055.5" y="1172.5" textLength="11" lengthAdjust="spacingAndGlyphs">)</tspan></text>
<line x1="512.5" y1="885.0" x2="482.8" y2="913.1" stroke="#555" stroke-width="1.8"/><polygon points="467.5,927.5 477.6,907.6 487.9,918.5" fill="#000"/>
<line x1="605.0" y1="932.5" x2="544.1" y2="951.3" stroke="#555" stroke-width="1.8"/><polygon points="524.0,957.5 541.9,944.1 546.3,958.5" fill="#000"/>
<line x1="726.7" y1="1046.4" x2="688.6" y2="1052.0" stroke="#555" stroke-width="1.8"/><polygon points="667.8,1055.0 687.5,1044.5 689.7,1059.4" fill="#000"/>
<line x1="849.3" y1="1157.0" x2="812.6" y2="1171.4" stroke="#555" stroke-width="1.8"/><polygon points="793.0,1179.0 809.8,1164.4 815.3,1178.3" fill="#000"/>
</g>
</svg>
</body></html>
